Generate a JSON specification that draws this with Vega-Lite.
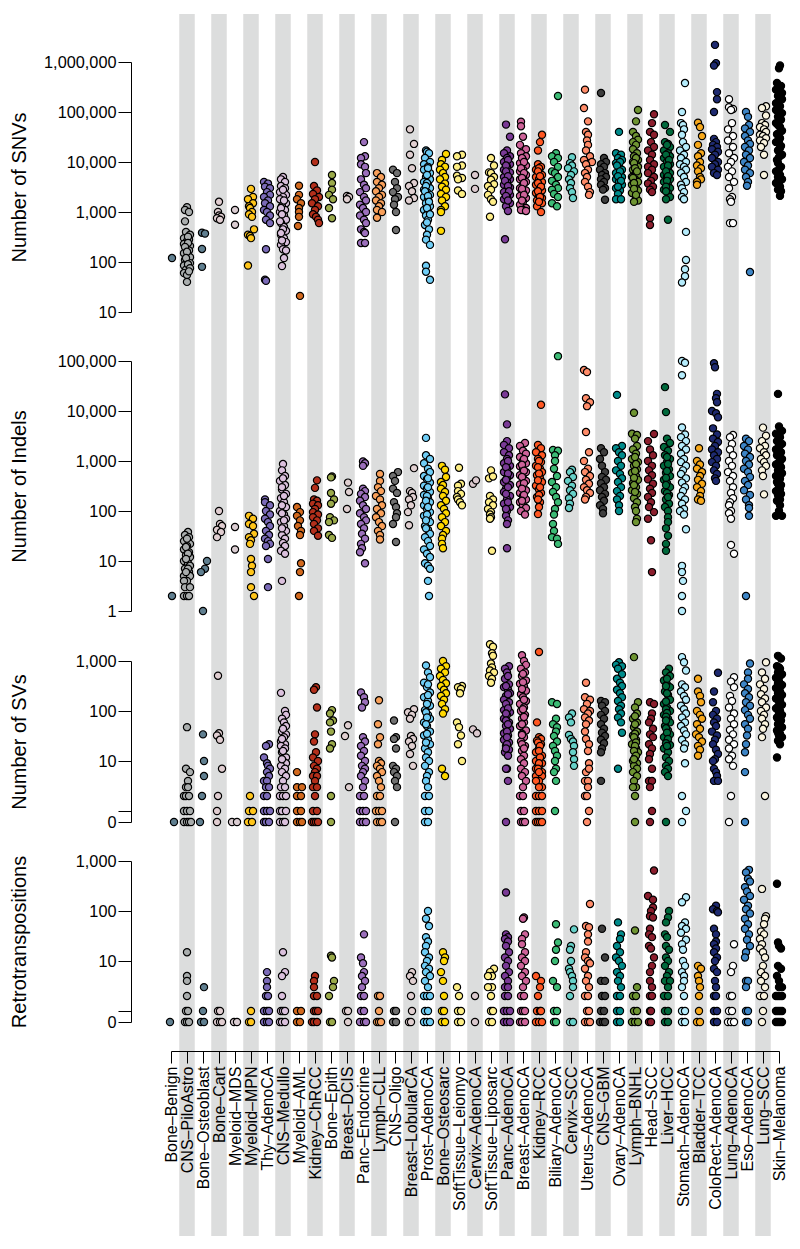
{"$schema":"https://vega.github.io/schema/vega-lite/v6.json","padding":{"left":8,"top":14,"right":0,"bottom":0},"spacing":0,"background":"white",
"config":{"view":{"stroke":null},"font":"Liberation Sans","axis":{"grid":false,"domainColor":"#000","tickColor":"#000","labelColor":"#000","titleColor":"#000","domainWidth":1,"tickWidth":1},"range":{"category":["#607F90","#A9ADAD","#607F90","#E0CDD0","#DBCDD2","#FFC51A","#7B6BB8","#DAC0DC","#D2691E","#B32F1B","#9BAA4A","#DFCFD0","#9B6FBB","#F9A05A","#707070","#E0CFD0","#6FCDF6","#FFD700","#FDEE84","#DBC9CE","#FFEE88","#7A3A96","#CD6399","#FF5722","#3CBB75","#66D0C8","#FF8C69","#3D3D3D","#008B8B","#6E9432","#8B1E2D","#00693C","#B5ECFC","#F7A81B","#1E2A70","#FFFFFF","#3D85C6","#FBF5E0","#000000"]}},
"datasets":{"stripes":[{"c":2},{"c":4},{"c":6},{"c":8},{"c":10},{"c":12},{"c":14},{"c":16},{"c":18},{"c":20},{"c":22},{"c":24},{"c":26},{"c":28},{"c":30},{"c":32},{"c":34},{"c":36},{"c":38}],
"snv":[{"c":1,"v":120,"j":1},{"c":2,"v":1250,"j":0},{"c":2,"v":1100,"j":-2},{"c":2,"v":1000,"j":2},{"c":2,"v":650,"j":-2},{"c":2,"v":400,"j":-1},{"c":2,"v":350,"j":3},{"c":2,"v":300,"j":-3},{"c":2,"v":280,"j":2},{"c":2,"v":260,"j":0},{"c":2,"v":230,"j":-3},{"c":2,"v":210,"j":3},{"c":2,"v":190,"j":-1},{"c":2,"v":170,"j":2},{"c":2,"v":150,"j":-3},{"c":2,"v":140,"j":1},{"c":2,"v":125,"j":3},{"c":2,"v":110,"j":-2},{"c":2,"v":100,"j":0},{"c":2,"v":95,"j":3},{"c":2,"v":85,"j":-3},{"c":2,"v":80,"j":1},{"c":2,"v":70,"j":-1},{"c":2,"v":60,"j":-3},{"c":2,"v":55,"j":0},{"c":2,"v":40,"j":0},{"c":2,"v":320,"j":1},{"c":2,"v":240,"j":1},{"c":2,"v":200,"j":-2},{"c":2,"v":160,"j":0},{"c":2,"v":120,"j":-1},{"c":2,"v":90,"j":1},{"c":2,"v":75,"j":3},{"c":2,"v":65,"j":2},{"c":3,"v":385,"j":-1},{"c":3,"v":370,"j":2},{"c":3,"v":182,"j":-1},{"c":3,"v":80,"j":-1},{"c":4,"v":1600,"j":0},{"c":4,"v":1000,"j":-1},{"c":4,"v":850,"j":0},{"c":4,"v":800,"j":2},{"c":4,"v":750,"j":-2},{"c":4,"v":700,"j":1},{"c":5,"v":1100,"j":0},{"c":5,"v":556,"j":0},{"c":6,"v":2900,"j":0},{"c":6,"v":2000,"j":2},{"c":6,"v":1800,"j":-3},{"c":6,"v":1500,"j":2},{"c":6,"v":1300,"j":-2},{"c":6,"v":1200,"j":-1},{"c":6,"v":1000,"j":1},{"c":6,"v":900,"j":-2},{"c":6,"v":800,"j":1},{"c":6,"v":450,"j":3},{"c":6,"v":350,"j":-3},{"c":6,"v":330,"j":-1},{"c":6,"v":300,"j":0},{"c":6,"v":85,"j":-3},{"c":7,"v":4000,"j":-3},{"c":7,"v":3700,"j":1},{"c":7,"v":3200,"j":-2},{"c":7,"v":3000,"j":3},{"c":7,"v":2500,"j":0},{"c":7,"v":2200,"j":3},{"c":7,"v":2000,"j":-3},{"c":7,"v":1700,"j":1},{"c":7,"v":1500,"j":-2},{"c":7,"v":1300,"j":3},{"c":7,"v":1100,"j":-3},{"c":7,"v":1000,"j":0},{"c":7,"v":850,"j":3},{"c":7,"v":700,"j":-1},{"c":7,"v":600,"j":3},{"c":7,"v":180,"j":-1},{"c":7,"v":44,"j":-2},{"c":7,"v":42,"j":-1},{"c":8,"v":5000,"j":0},{"c":8,"v":4500,"j":-2},{"c":8,"v":4000,"j":2},{"c":8,"v":3300,"j":-2},{"c":8,"v":3000,"j":2},{"c":8,"v":2500,"j":-3},{"c":8,"v":2200,"j":3},{"c":8,"v":2000,"j":0},{"c":8,"v":1800,"j":-3},{"c":8,"v":1500,"j":3},{"c":8,"v":1300,"j":-1},{"c":8,"v":1100,"j":2},{"c":8,"v":1000,"j":-3},{"c":8,"v":850,"j":1},{"c":8,"v":700,"j":3},{"c":8,"v":600,"j":-2},{"c":8,"v":500,"j":1},{"c":8,"v":420,"j":3},{"c":8,"v":350,"j":-2},{"c":8,"v":300,"j":1},{"c":8,"v":250,"j":3},{"c":8,"v":220,"j":-2},{"c":8,"v":180,"j":0},{"c":8,"v":170,"j":3},{"c":8,"v":120,"j":1},{"c":8,"v":83,"j":-1},{"c":8,"v":2800,"j":0},{"c":8,"v":1700,"j":1},{"c":8,"v":1200,"j":-2},{"c":8,"v":900,"j":-1},{"c":8,"v":650,"j":-3},{"c":8,"v":450,"j":0},{"c":8,"v":380,"j":-2},{"c":8,"v":270,"j":-1},{"c":9,"v":3350,"j":0},{"c":9,"v":2200,"j":0},{"c":9,"v":1800,"j":-2},{"c":9,"v":1500,"j":2},{"c":9,"v":1200,"j":0},{"c":9,"v":1000,"j":0},{"c":9,"v":800,"j":0},{"c":9,"v":525,"j":-1},{"c":9,"v":21,"j":1},{"c":10,"v":10000,"j":0},{"c":10,"v":3300,"j":-1},{"c":10,"v":2700,"j":2},{"c":10,"v":2300,"j":-2},{"c":10,"v":2000,"j":4},{"c":10,"v":1800,"j":0},{"c":10,"v":1500,"j":-3},{"c":10,"v":1300,"j":3},{"c":10,"v":1100,"j":0},{"c":10,"v":900,"j":-2},{"c":10,"v":800,"j":1},{"c":10,"v":700,"j":3},{"c":10,"v":600,"j":4},{"c":11,"v":5500,"j":1},{"c":11,"v":3800,"j":1},{"c":11,"v":2800,"j":1},{"c":11,"v":2200,"j":-2},{"c":11,"v":1800,"j":2},{"c":11,"v":1200,"j":-2},{"c":11,"v":750,"j":1},{"c":12,"v":2100,"j":0},{"c":12,"v":2000,"j":2},{"c":12,"v":1800,"j":0},{"c":13,"v":25000,"j":1},{"c":13,"v":13000,"j":2},{"c":13,"v":12000,"j":-2},{"c":13,"v":9000,"j":-2},{"c":13,"v":8000,"j":2},{"c":13,"v":6000,"j":3},{"c":13,"v":4500,"j":-2},{"c":13,"v":3500,"j":1},{"c":13,"v":3000,"j":3},{"c":13,"v":2500,"j":-3},{"c":13,"v":2000,"j":1},{"c":13,"v":1700,"j":3},{"c":13,"v":1400,"j":-3},{"c":13,"v":1200,"j":0},{"c":13,"v":1000,"j":3},{"c":13,"v":850,"j":-3},{"c":13,"v":700,"j":1},{"c":13,"v":600,"j":3},{"c":13,"v":450,"j":-2},{"c":13,"v":400,"j":1},{"c":13,"v":380,"j":2},{"c":13,"v":240,"j":-2},{"c":13,"v":240,"j":2},{"c":14,"v":6000,"j":-2},{"c":14,"v":5000,"j":2},{"c":14,"v":4000,"j":-2},{"c":14,"v":3500,"j":3},{"c":14,"v":3000,"j":0},{"c":14,"v":2600,"j":-3},{"c":14,"v":2200,"j":3},{"c":14,"v":2000,"j":0},{"c":14,"v":1700,"j":-3},{"c":14,"v":1500,"j":2},{"c":14,"v":1300,"j":0},{"c":14,"v":1100,"j":-2},{"c":14,"v":1000,"j":3},{"c":14,"v":770,"j":-2},{"c":15,"v":7000,"j":-2},{"c":15,"v":6000,"j":2},{"c":15,"v":4000,"j":0},{"c":15,"v":3000,"j":2},{"c":15,"v":2500,"j":-2},{"c":15,"v":2000,"j":3},{"c":15,"v":1800,"j":0},{"c":15,"v":1400,"j":-1},{"c":15,"v":1000,"j":1},{"c":15,"v":436,"j":1},{"c":16,"v":45000,"j":-1},{"c":16,"v":23000,"j":3},{"c":16,"v":14000,"j":-1},{"c":16,"v":7500,"j":1},{"c":16,"v":3800,"j":3},{"c":16,"v":3300,"j":-2},{"c":16,"v":2600,"j":1},{"c":16,"v":1900,"j":3},{"c":16,"v":1700,"j":-2},{"c":17,"v":17000,"j":-1},{"c":17,"v":16000,"j":0},{"c":17,"v":15000,"j":2},{"c":17,"v":12000,"j":-2},{"c":17,"v":10000,"j":3},{"c":17,"v":9000,"j":-3},{"c":17,"v":8000,"j":1},{"c":17,"v":7000,"j":-3},{"c":17,"v":6000,"j":3},{"c":17,"v":5000,"j":-1},{"c":17,"v":4500,"j":3},{"c":17,"v":4000,"j":-3},{"c":17,"v":3500,"j":1},{"c":17,"v":3000,"j":3},{"c":17,"v":2800,"j":-3},{"c":17,"v":2500,"j":0},{"c":17,"v":2200,"j":3},{"c":17,"v":2000,"j":-3},{"c":17,"v":1800,"j":1},{"c":17,"v":1500,"j":-1},{"c":17,"v":1300,"j":3},{"c":17,"v":1100,"j":-3},{"c":17,"v":1000,"j":1},{"c":17,"v":850,"j":-1},{"c":17,"v":700,"j":1},{"c":17,"v":550,"j":-2},{"c":17,"v":450,"j":2},{"c":17,"v":350,"j":0},{"c":17,"v":280,"j":-1},{"c":17,"v":220,"j":3},{"c":17,"v":84,"j":-1},{"c":17,"v":64,"j":-1},{"c":17,"v":44,"j":3},{"c":17,"v":7500,"j":1},{"c":17,"v":5500,"j":0},{"c":17,"v":3800,"j":0},{"c":17,"v":3300,"j":-1},{"c":17,"v":2600,"j":-2},{"c":17,"v":2100,"j":1},{"c":17,"v":1600,"j":2},{"c":17,"v":1200,"j":0},{"c":17,"v":900,"j":3},{"c":17,"v":620,"j":0},{"c":18,"v":14500,"j":3},{"c":18,"v":11000,"j":-1},{"c":18,"v":9000,"j":-2},{"c":18,"v":8000,"j":2},{"c":18,"v":7000,"j":-3},{"c":18,"v":6000,"j":0},{"c":18,"v":5000,"j":2},{"c":18,"v":4500,"j":-3},{"c":18,"v":3700,"j":2},{"c":18,"v":3200,"j":-1},{"c":18,"v":2800,"j":3},{"c":18,"v":2300,"j":-2},{"c":18,"v":2000,"j":3},{"c":18,"v":1700,"j":-1},{"c":18,"v":1300,"j":2},{"c":18,"v":1100,"j":-2},{"c":18,"v":1000,"j":-2},{"c":18,"v":420,"j":-2},{"c":19,"v":14000,"j":3},{"c":19,"v":13000,"j":-2},{"c":19,"v":8500,"j":3},{"c":19,"v":8000,"j":-2},{"c":19,"v":5300,"j":-2},{"c":19,"v":4800,"j":3},{"c":19,"v":4500,"j":-1},{"c":19,"v":2700,"j":-1},{"c":19,"v":2300,"j":3},{"c":20,"v":5500,"j":0},{"c":20,"v":2900,"j":0},{"c":21,"v":12000,"j":0},{"c":21,"v":8500,"j":3},{"c":21,"v":6200,"j":-2},{"c":21,"v":6000,"j":0},{"c":21,"v":5000,"j":3},{"c":21,"v":4400,"j":0},{"c":21,"v":3600,"j":3},{"c":21,"v":3300,"j":-3},{"c":21,"v":2800,"j":0},{"c":21,"v":2200,"j":-3},{"c":21,"v":1800,"j":0},{"c":21,"v":1600,"j":2},{"c":21,"v":805,"j":-1},{"c":22,"v":56000,"j":-1},{"c":22,"v":32000,"j":3},{"c":22,"v":17000,"j":0},{"c":22,"v":15000,"j":-3},{"c":22,"v":13000,"j":3},{"c":22,"v":12000,"j":0},{"c":22,"v":10000,"j":-3},{"c":22,"v":9000,"j":3},{"c":22,"v":8000,"j":0},{"c":22,"v":7000,"j":-3},{"c":22,"v":6200,"j":3},{"c":22,"v":5500,"j":0},{"c":22,"v":5000,"j":-3},{"c":22,"v":4500,"j":3},{"c":22,"v":4000,"j":0},{"c":22,"v":3500,"j":-3},{"c":22,"v":3100,"j":3},{"c":22,"v":2800,"j":0},{"c":22,"v":2500,"j":-3},{"c":22,"v":2200,"j":3},{"c":22,"v":2000,"j":0},{"c":22,"v":1800,"j":-3},{"c":22,"v":1500,"j":3},{"c":22,"v":1300,"j":-1},{"c":22,"v":1050,"j":1},{"c":22,"v":285,"j":-2},{"c":22,"v":11000,"j":1},{"c":22,"v":8500,"j":-1},{"c":22,"v":6500,"j":-1},{"c":22,"v":5200,"j":1},{"c":22,"v":4200,"j":-2},{"c":22,"v":3300,"j":1},{"c":22,"v":2600,"j":2},{"c":22,"v":2100,"j":-1},{"c":22,"v":1700,"j":1},{"c":23,"v":64000,"j":-2},{"c":23,"v":52000,"j":-2},{"c":23,"v":32000,"j":0},{"c":23,"v":22000,"j":-3},{"c":23,"v":18000,"j":3},{"c":23,"v":15000,"j":-2},{"c":23,"v":13000,"j":3},{"c":23,"v":11000,"j":0},{"c":23,"v":9500,"j":-3},{"c":23,"v":8500,"j":3},{"c":23,"v":7000,"j":0},{"c":23,"v":6500,"j":-3},{"c":23,"v":5500,"j":3},{"c":23,"v":5000,"j":0},{"c":23,"v":4500,"j":-3},{"c":23,"v":4000,"j":3},{"c":23,"v":3500,"j":0},{"c":23,"v":3000,"j":-3},{"c":23,"v":2700,"j":3},{"c":23,"v":2400,"j":0},{"c":23,"v":2100,"j":-3},{"c":23,"v":1900,"j":3},{"c":23,"v":1600,"j":0},{"c":23,"v":1400,"j":-3},{"c":23,"v":1200,"j":3},{"c":23,"v":1100,"j":0},{"c":23,"v":1100,"j":-2},{"c":23,"v":1050,"j":3},{"c":23,"v":12000,"j":-1},{"c":23,"v":10000,"j":1},{"c":23,"v":7500,"j":-2},{"c":23,"v":6000,"j":1},{"c":23,"v":4800,"j":-1},{"c":23,"v":3800,"j":1},{"c":23,"v":2900,"j":-1},{"c":23,"v":2200,"j":1},{"c":23,"v":1700,"j":-1},{"c":24,"v":35000,"j":3},{"c":24,"v":25000,"j":1},{"c":24,"v":17000,"j":-1},{"c":24,"v":9000,"j":-1},{"c":24,"v":8000,"j":2},{"c":24,"v":7000,"j":-3},{"c":24,"v":6000,"j":1},{"c":24,"v":5500,"j":3},{"c":24,"v":5000,"j":-3},{"c":24,"v":4500,"j":0},{"c":24,"v":4000,"j":3},{"c":24,"v":3500,"j":-3},{"c":24,"v":3000,"j":1},{"c":24,"v":2700,"j":3},{"c":24,"v":2400,"j":-3},{"c":24,"v":2100,"j":0},{"c":24,"v":1900,"j":3},{"c":24,"v":1700,"j":-2},{"c":24,"v":1500,"j":3},{"c":24,"v":1300,"j":-2},{"c":24,"v":1000,"j":2},{"c":24,"v":7500,"j":0},{"c":24,"v":6500,"j":-1},{"c":24,"v":5200,"j":1},{"c":24,"v":3800,"j":-1},{"c":24,"v":3200,"j":2},{"c":24,"v":2600,"j":-1},{"c":24,"v":2000,"j":1},{"c":24,"v":1600,"j":0},{"c":25,"v":209000,"j":3},{"c":25,"v":15000,"j":1},{"c":25,"v":13000,"j":-3},{"c":25,"v":12000,"j":3},{"c":25,"v":10000,"j":-1},{"c":25,"v":8000,"j":3},{"c":25,"v":6500,"j":-3},{"c":25,"v":6000,"j":0},{"c":25,"v":5000,"j":3},{"c":25,"v":4200,"j":-3},{"c":25,"v":3500,"j":1},{"c":25,"v":3000,"j":3},{"c":25,"v":2800,"j":-3},{"c":25,"v":2300,"j":-1},{"c":25,"v":2000,"j":3},{"c":25,"v":1500,"j":-3},{"c":25,"v":1300,"j":2},{"c":26,"v":12500,"j":1},{"c":26,"v":9500,"j":-1},{"c":26,"v":8500,"j":1},{"c":26,"v":7500,"j":-3},{"c":26,"v":6500,"j":3},{"c":26,"v":5500,"j":0},{"c":26,"v":4500,"j":-2},{"c":26,"v":3800,"j":0},{"c":26,"v":3000,"j":-1},{"c":26,"v":2500,"j":1},{"c":26,"v":1900,"j":2},{"c":27,"v":280000,"j":-2},{"c":27,"v":120000,"j":-3},{"c":27,"v":65000,"j":1},{"c":27,"v":40000,"j":-1},{"c":27,"v":35000,"j":1},{"c":27,"v":27000,"j":0},{"c":27,"v":22000,"j":1},{"c":27,"v":17000,"j":-1},{"c":27,"v":13000,"j":3},{"c":27,"v":11000,"j":-3},{"c":27,"v":10000,"j":5},{"c":27,"v":9000,"j":-1},{"c":27,"v":7000,"j":1},{"c":27,"v":6000,"j":-2},{"c":27,"v":5000,"j":0},{"c":27,"v":4000,"j":-2},{"c":27,"v":3200,"j":1},{"c":27,"v":2500,"j":3},{"c":27,"v":2200,"j":2},{"c":28,"v":240000,"j":-2},{"c":28,"v":12000,"j":1},{"c":28,"v":10000,"j":3},{"c":28,"v":9000,"j":-2},{"c":28,"v":8000,"j":1},{"c":28,"v":7000,"j":-3},{"c":28,"v":6000,"j":2},{"c":28,"v":5500,"j":-1},{"c":28,"v":5000,"j":3},{"c":28,"v":4500,"j":-2},{"c":28,"v":4000,"j":1},{"c":28,"v":3500,"j":-2},{"c":28,"v":3000,"j":2},{"c":28,"v":2800,"j":0},{"c":28,"v":1760,"j":2},{"c":29,"v":40000,"j":0},{"c":29,"v":15000,"j":-3},{"c":29,"v":14000,"j":2},{"c":29,"v":12000,"j":-1},{"c":29,"v":11000,"j":3},{"c":29,"v":9500,"j":-3},{"c":29,"v":8000,"j":0},{"c":29,"v":7000,"j":3},{"c":29,"v":6000,"j":-3},{"c":29,"v":5500,"j":1},{"c":29,"v":5000,"j":3},{"c":29,"v":4500,"j":-3},{"c":29,"v":4000,"j":0},{"c":29,"v":3500,"j":3},{"c":29,"v":3000,"j":-3},{"c":29,"v":2700,"j":1},{"c":29,"v":2300,"j":-1},{"c":29,"v":1800,"j":-3},{"c":29,"v":1800,"j":2},{"c":29,"v":10000,"j":1},{"c":29,"v":8500,"j":-2},{"c":29,"v":6500,"j":1},{"c":29,"v":5200,"j":-1},{"c":29,"v":4200,"j":2},{"c":29,"v":3200,"j":-1},{"c":30,"v":110000,"j":3},{"c":30,"v":65000,"j":1},{"c":30,"v":40000,"j":-2},{"c":30,"v":33000,"j":1},{"c":30,"v":28000,"j":3},{"c":30,"v":25000,"j":-2},{"c":30,"v":22000,"j":1},{"c":30,"v":18000,"j":-2},{"c":30,"v":15000,"j":2},{"c":30,"v":13000,"j":-1},{"c":30,"v":11000,"j":3},{"c":30,"v":10000,"j":-2},{"c":30,"v":9000,"j":1},{"c":30,"v":8000,"j":3},{"c":30,"v":7000,"j":-2},{"c":30,"v":6000,"j":1},{"c":30,"v":5500,"j":3},{"c":30,"v":5000,"j":-3},{"c":30,"v":4500,"j":0},{"c":30,"v":4000,"j":3},{"c":30,"v":3500,"j":-3},{"c":30,"v":3000,"j":1},{"c":30,"v":2700,"j":3},{"c":30,"v":2400,"j":-3},{"c":30,"v":2000,"j":1},{"c":30,"v":1700,"j":3},{"c":30,"v":1600,"j":-1},{"c":30,"v":12000,"j":1},{"c":30,"v":9500,"j":-1},{"c":30,"v":7500,"j":0},{"c":30,"v":6500,"j":2},{"c":30,"v":4800,"j":-2},{"c":30,"v":3800,"j":-1},{"c":30,"v":2900,"j":-1},{"c":30,"v":2200,"j":1},{"c":31,"v":90000,"j":3},{"c":31,"v":60000,"j":1},{"c":31,"v":40000,"j":-1},{"c":31,"v":35000,"j":3},{"c":31,"v":25000,"j":0},{"c":31,"v":20000,"j":3},{"c":31,"v":17000,"j":-3},{"c":31,"v":14000,"j":1},{"c":31,"v":11000,"j":-1},{"c":31,"v":9000,"j":3},{"c":31,"v":8000,"j":-3},{"c":31,"v":7000,"j":1},{"c":31,"v":6000,"j":-3},{"c":31,"v":5000,"j":3},{"c":31,"v":4200,"j":0},{"c":31,"v":3700,"j":-3},{"c":31,"v":3200,"j":2},{"c":31,"v":2800,"j":-1},{"c":31,"v":2500,"j":1},{"c":31,"v":750,"j":-1},{"c":31,"v":550,"j":-1},{"c":32,"v":55000,"j":-2},{"c":32,"v":40000,"j":3},{"c":32,"v":25000,"j":-2},{"c":32,"v":23000,"j":1},{"c":32,"v":20000,"j":3},{"c":32,"v":17000,"j":-3},{"c":32,"v":15000,"j":1},{"c":32,"v":13000,"j":3},{"c":32,"v":12000,"j":-3},{"c":32,"v":10000,"j":0},{"c":32,"v":9000,"j":3},{"c":32,"v":8000,"j":-3},{"c":32,"v":7000,"j":1},{"c":32,"v":6000,"j":3},{"c":32,"v":5500,"j":-3},{"c":32,"v":5000,"j":0},{"c":32,"v":4500,"j":3},{"c":32,"v":4000,"j":-3},{"c":32,"v":3500,"j":1},{"c":32,"v":3000,"j":3},{"c":32,"v":2800,"j":-3},{"c":32,"v":2400,"j":1},{"c":32,"v":2000,"j":3},{"c":32,"v":1800,"j":-1},{"c":32,"v":700,"j":1},{"c":32,"v":22000,"j":0},{"c":32,"v":14000,"j":-1},{"c":32,"v":11000,"j":2},{"c":32,"v":8500,"j":1},{"c":32,"v":6500,"j":-1},{"c":32,"v":5200,"j":1},{"c":32,"v":4200,"j":0},{"c":32,"v":3200,"j":-1},{"c":32,"v":2600,"j":-1},{"c":33,"v":380000,"j":2},{"c":33,"v":100000,"j":-1},{"c":33,"v":60000,"j":-2},{"c":33,"v":55000,"j":0},{"c":33,"v":45000,"j":1},{"c":33,"v":35000,"j":-1},{"c":33,"v":25000,"j":0},{"c":33,"v":20000,"j":3},{"c":33,"v":17000,"j":-3},{"c":33,"v":14000,"j":1},{"c":33,"v":12000,"j":-2},{"c":33,"v":10000,"j":3},{"c":33,"v":9000,"j":-3},{"c":33,"v":8000,"j":1},{"c":33,"v":7000,"j":3},{"c":33,"v":6000,"j":-2},{"c":33,"v":5000,"j":1},{"c":33,"v":4000,"j":3},{"c":33,"v":3500,"j":-2},{"c":33,"v":3000,"j":-1},{"c":33,"v":2500,"j":1},{"c":33,"v":2000,"j":-1},{"c":33,"v":1800,"j":1},{"c":33,"v":400,"j":3},{"c":33,"v":110,"j":3},{"c":33,"v":72,"j":2},{"c":33,"v":52,"j":2},{"c":33,"v":39,"j":-1},{"c":34,"v":61000,"j":-1},{"c":34,"v":50000,"j":1},{"c":34,"v":33000,"j":3},{"c":34,"v":22000,"j":-1},{"c":34,"v":15000,"j":2},{"c":34,"v":13000,"j":-1},{"c":34,"v":10000,"j":1},{"c":34,"v":8500,"j":-2},{"c":34,"v":7500,"j":2},{"c":34,"v":6500,"j":-1},{"c":34,"v":5000,"j":1},{"c":34,"v":4500,"j":2},{"c":34,"v":4000,"j":-2},{"c":34,"v":3500,"j":-2},{"c":35,"v":2200000,"j":0},{"c":35,"v":950000,"j":1},{"c":35,"v":850000,"j":-1},{"c":35,"v":250000,"j":2},{"c":35,"v":180000,"j":2},{"c":35,"v":100000,"j":-1},{"c":35,"v":29000,"j":-1},{"c":35,"v":25000,"j":1},{"c":35,"v":22000,"j":-2},{"c":35,"v":20000,"j":2},{"c":35,"v":18000,"j":-3},{"c":35,"v":16000,"j":3},{"c":35,"v":14000,"j":0},{"c":35,"v":12000,"j":-3},{"c":35,"v":10000,"j":3},{"c":35,"v":9000,"j":0},{"c":35,"v":8000,"j":-3},{"c":35,"v":7000,"j":3},{"c":35,"v":6000,"j":-1},{"c":35,"v":5500,"j":2},{"c":36,"v":180000,"j":-2},{"c":36,"v":125000,"j":-2},{"c":36,"v":115000,"j":2},{"c":36,"v":110000,"j":0},{"c":36,"v":60000,"j":1},{"c":36,"v":45000,"j":-3},{"c":36,"v":33000,"j":2},{"c":36,"v":27000,"j":-3},{"c":36,"v":20000,"j":2},{"c":36,"v":15000,"j":-2},{"c":36,"v":12000,"j":3},{"c":36,"v":10000,"j":0},{"c":36,"v":8000,"j":-3},{"c":36,"v":6500,"j":1},{"c":36,"v":5000,"j":-2},{"c":36,"v":4000,"j":3},{"c":36,"v":3000,"j":-2},{"c":36,"v":2000,"j":1},{"c":36,"v":1800,"j":-1},{"c":36,"v":1600,"j":0},{"c":36,"v":600,"j":-1},{"c":36,"v":600,"j":2},{"c":37,"v":100000,"j":-1},{"c":37,"v":80000,"j":1},{"c":37,"v":55000,"j":2},{"c":37,"v":47000,"j":-2},{"c":37,"v":40000,"j":3},{"c":37,"v":33000,"j":-2},{"c":37,"v":27000,"j":1},{"c":37,"v":23000,"j":3},{"c":37,"v":20000,"j":-2},{"c":37,"v":17000,"j":2},{"c":37,"v":14000,"j":-1},{"c":37,"v":12000,"j":3},{"c":37,"v":10000,"j":-3},{"c":37,"v":8500,"j":1},{"c":37,"v":7000,"j":-2},{"c":37,"v":6000,"j":3},{"c":37,"v":5000,"j":-1},{"c":37,"v":4000,"j":1},{"c":37,"v":3350,"j":0},{"c":37,"v":63,"j":3},{"c":38,"v":130000,"j":3},{"c":38,"v":120000,"j":-1},{"c":38,"v":85000,"j":3},{"c":38,"v":60000,"j":-1},{"c":38,"v":55000,"j":2},{"c":38,"v":50000,"j":-3},{"c":38,"v":45000,"j":1},{"c":38,"v":40000,"j":3},{"c":38,"v":35000,"j":-3},{"c":38,"v":33000,"j":0},{"c":38,"v":30000,"j":3},{"c":38,"v":27000,"j":-3},{"c":38,"v":24000,"j":1},{"c":38,"v":20000,"j":-2},{"c":38,"v":14000,"j":1},{"c":38,"v":5500,"j":1},{"c":39,"v":850000,"j":1},{"c":39,"v":750000,"j":0},{"c":39,"v":380000,"j":-2},{"c":39,"v":330000,"j":2},{"c":39,"v":280000,"j":-3},{"c":39,"v":240000,"j":3},{"c":39,"v":210000,"j":-1},{"c":39,"v":180000,"j":3},{"c":39,"v":150000,"j":-3},{"c":39,"v":130000,"j":1},{"c":39,"v":110000,"j":-3},{"c":39,"v":95000,"j":3},{"c":39,"v":80000,"j":-1},{"c":39,"v":70000,"j":2},{"c":39,"v":60000,"j":-3},{"c":39,"v":50000,"j":1},{"c":39,"v":42000,"j":3},{"c":39,"v":36000,"j":-2},{"c":39,"v":30000,"j":1},{"c":39,"v":25000,"j":-3},{"c":39,"v":21000,"j":2},{"c":39,"v":17000,"j":-1},{"c":39,"v":14000,"j":3},{"c":39,"v":11000,"j":-2},{"c":39,"v":9500,"j":-1},{"c":39,"v":8000,"j":2},{"c":39,"v":6500,"j":-3},{"c":39,"v":5500,"j":1},{"c":39,"v":4500,"j":3},{"c":39,"v":3800,"j":-3},{"c":39,"v":3200,"j":1},{"c":39,"v":2600,"j":2},{"c":39,"v":2100,"j":1},{"c":39,"v":300000,"j":0},{"c":39,"v":200000,"j":1},{"c":39,"v":140000,"j":-1},{"c":39,"v":100000,"j":0},{"c":39,"v":75000,"j":1},{"c":39,"v":55000,"j":-1},{"c":39,"v":38000,"j":0},{"c":39,"v":27000,"j":0},{"c":39,"v":19000,"j":1},{"c":39,"v":12500,"j":0},{"c":39,"v":7000,"j":0},{"c":39,"v":5000,"j":-1},{"c":39,"v":3500,"j":0},{"c":39,"v":2800,"j":-1}],
"indel":[{"c":1,"v":2,"j":1},{"c":2,"v":38,"j":1},{"c":2,"v":33,"j":-2},{"c":2,"v":30,"j":2},{"c":2,"v":25,"j":-3},{"c":2,"v":22,"j":3},{"c":2,"v":20,"j":0},{"c":2,"v":17,"j":-3},{"c":2,"v":15,"j":2},{"c":2,"v":13,"j":-1},{"c":2,"v":12,"j":3},{"c":2,"v":10,"j":-3},{"c":2,"v":9,"j":1},{"c":2,"v":8,"j":3},{"c":2,"v":7,"j":-2},{"c":2,"v":6,"j":2},{"c":2,"v":5,"j":-3},{"c":2,"v":5,"j":3},{"c":2,"v":4,"j":0},{"c":2,"v":4,"j":-3},{"c":2,"v":3,"j":-2},{"c":2,"v":3,"j":3},{"c":2,"v":2,"j":-3},{"c":2,"v":2,"j":0},{"c":2,"v":2,"j":2},{"c":2,"v":28,"j":0},{"c":2,"v":19,"j":-1},{"c":2,"v":14,"j":1},{"c":2,"v":11,"j":-1},{"c":2,"v":7,"j":1},{"c":2,"v":6,"j":-1},{"c":3,"v":10,"j":4},{"c":3,"v":7,"j":2},{"c":3,"v":6,"j":-2},{"c":3,"v":1,"j":0},{"c":4,"v":100,"j":0},{"c":4,"v":55,"j":1},{"c":4,"v":50,"j":3},{"c":4,"v":42,"j":-2},{"c":4,"v":38,"j":2},{"c":4,"v":30,"j":-2},{"c":5,"v":48,"j":0},{"c":5,"v":17,"j":0},{"c":6,"v":80,"j":-2},{"c":6,"v":70,"j":2},{"c":6,"v":55,"j":-2},{"c":6,"v":50,"j":2},{"c":6,"v":35,"j":3},{"c":6,"v":30,"j":-2},{"c":6,"v":26,"j":0},{"c":6,"v":22,"j":-1},{"c":6,"v":11,"j":0},{"c":6,"v":8,"j":1},{"c":6,"v":6,"j":0},{"c":6,"v":3,"j":0},{"c":6,"v":2,"j":3},{"c":7,"v":170,"j":-2},{"c":7,"v":150,"j":-2},{"c":7,"v":130,"j":3},{"c":7,"v":100,"j":-1},{"c":7,"v":85,"j":3},{"c":7,"v":70,"j":-2},{"c":7,"v":60,"j":1},{"c":7,"v":50,"j":3},{"c":7,"v":40,"j":-1},{"c":7,"v":33,"j":2},{"c":7,"v":28,"j":-2},{"c":7,"v":25,"j":1},{"c":7,"v":22,"j":3},{"c":7,"v":20,"j":-1},{"c":7,"v":11,"j":1},{"c":7,"v":3,"j":1},{"c":8,"v":870,"j":0},{"c":8,"v":650,"j":-1},{"c":8,"v":500,"j":2},{"c":8,"v":400,"j":-3},{"c":8,"v":330,"j":2},{"c":8,"v":270,"j":-1},{"c":8,"v":220,"j":3},{"c":8,"v":180,"j":-2},{"c":8,"v":150,"j":1},{"c":8,"v":120,"j":3},{"c":8,"v":100,"j":-3},{"c":8,"v":85,"j":1},{"c":8,"v":70,"j":3},{"c":8,"v":60,"j":-2},{"c":8,"v":50,"j":1},{"c":8,"v":40,"j":3},{"c":8,"v":33,"j":-1},{"c":8,"v":28,"j":2},{"c":8,"v":23,"j":0},{"c":8,"v":20,"j":2},{"c":8,"v":16,"j":-2},{"c":8,"v":14,"j":2},{"c":8,"v":4,"j":-1},{"c":8,"v":450,"j":0},{"c":8,"v":300,"j":-1},{"c":8,"v":200,"j":1},{"c":8,"v":130,"j":-1},{"c":8,"v":90,"j":-1},{"c":8,"v":65,"j":1},{"c":8,"v":45,"j":-1},{"c":9,"v":120,"j":-2},{"c":9,"v":95,"j":1},{"c":9,"v":80,"j":-2},{"c":9,"v":65,"j":1},{"c":9,"v":50,"j":-1},{"c":9,"v":40,"j":2},{"c":9,"v":33,"j":1},{"c":9,"v":9,"j":2},{"c":9,"v":6,"j":1},{"c":9,"v":2,"j":0},{"c":10,"v":410,"j":2},{"c":10,"v":290,"j":0},{"c":10,"v":170,"j":-1},{"c":10,"v":160,"j":2},{"c":10,"v":140,"j":-2},{"c":10,"v":130,"j":3},{"c":10,"v":110,"j":0},{"c":10,"v":95,"j":-2},{"c":10,"v":85,"j":3},{"c":10,"v":75,"j":-2},{"c":10,"v":65,"j":2},{"c":10,"v":55,"j":-1},{"c":10,"v":45,"j":3},{"c":10,"v":40,"j":-1},{"c":10,"v":32,"j":3},{"c":11,"v":490,"j":1},{"c":11,"v":470,"j":0},{"c":11,"v":230,"j":0},{"c":11,"v":170,"j":3},{"c":11,"v":140,"j":0},{"c":11,"v":75,"j":-1},{"c":11,"v":65,"j":3},{"c":11,"v":60,"j":-2},{"c":11,"v":33,"j":-2},{"c":11,"v":29,"j":1},{"c":12,"v":370,"j":1},{"c":12,"v":240,"j":2},{"c":12,"v":110,"j":0},{"c":13,"v":980,"j":0},{"c":13,"v":900,"j":2},{"c":13,"v":800,"j":0},{"c":13,"v":280,"j":0},{"c":13,"v":250,"j":2},{"c":13,"v":220,"j":-2},{"c":13,"v":190,"j":2},{"c":13,"v":160,"j":-3},{"c":13,"v":130,"j":0},{"c":13,"v":110,"j":3},{"c":13,"v":90,"j":-3},{"c":13,"v":75,"j":1},{"c":13,"v":65,"j":3},{"c":13,"v":55,"j":-2},{"c":13,"v":45,"j":1},{"c":13,"v":35,"j":-1},{"c":13,"v":28,"j":2},{"c":13,"v":22,"j":-2},{"c":13,"v":18,"j":-1},{"c":13,"v":15,"j":-3},{"c":13,"v":9,"j":2},{"c":14,"v":550,"j":1},{"c":14,"v":400,"j":1},{"c":14,"v":300,"j":-1},{"c":14,"v":250,"j":2},{"c":14,"v":200,"j":-3},{"c":14,"v":170,"j":1},{"c":14,"v":130,"j":3},{"c":14,"v":110,"j":-2},{"c":14,"v":90,"j":2},{"c":14,"v":75,"j":-3},{"c":14,"v":60,"j":0},{"c":14,"v":50,"j":3},{"c":14,"v":40,"j":-1},{"c":14,"v":33,"j":1},{"c":14,"v":27,"j":1},{"c":15,"v":600,"j":3},{"c":15,"v":500,"j":-2},{"c":15,"v":400,"j":0},{"c":15,"v":280,"j":-2},{"c":15,"v":230,"j":2},{"c":15,"v":150,"j":-1},{"c":15,"v":120,"j":1},{"c":15,"v":90,"j":2},{"c":15,"v":75,"j":1},{"c":15,"v":55,"j":-2},{"c":15,"v":24,"j":1},{"c":16,"v":720,"j":3},{"c":16,"v":250,"j":-1},{"c":16,"v":230,"j":1},{"c":16,"v":190,"j":2},{"c":16,"v":170,"j":-2},{"c":16,"v":130,"j":0},{"c":16,"v":95,"j":-3},{"c":16,"v":52,"j":-2},{"c":17,"v":2900,"j":-1},{"c":17,"v":1300,"j":-1},{"c":17,"v":1100,"j":3},{"c":17,"v":900,"j":-3},{"c":17,"v":700,"j":1},{"c":17,"v":600,"j":3},{"c":17,"v":500,"j":-3},{"c":17,"v":430,"j":0},{"c":17,"v":370,"j":3},{"c":17,"v":320,"j":-3},{"c":17,"v":280,"j":0},{"c":17,"v":240,"j":3},{"c":17,"v":210,"j":-3},{"c":17,"v":180,"j":1},{"c":17,"v":150,"j":3},{"c":17,"v":130,"j":-3},{"c":17,"v":110,"j":0},{"c":17,"v":95,"j":3},{"c":17,"v":80,"j":-3},{"c":17,"v":70,"j":1},{"c":17,"v":60,"j":3},{"c":17,"v":50,"j":-2},{"c":17,"v":42,"j":1},{"c":17,"v":35,"j":3},{"c":17,"v":30,"j":-2},{"c":17,"v":25,"j":1},{"c":17,"v":20,"j":3},{"c":17,"v":17,"j":-3},{"c":17,"v":14,"j":0},{"c":17,"v":12,"j":3},{"c":17,"v":9,"j":-2},{"c":17,"v":8,"j":1},{"c":17,"v":7,"j":3},{"c":17,"v":4,"j":1},{"c":17,"v":2,"j":2},{"c":17,"v":450,"j":1},{"c":17,"v":300,"j":1},{"c":17,"v":200,"j":0},{"c":17,"v":160,"j":-1},{"c":17,"v":120,"j":1},{"c":17,"v":85,"j":0},{"c":17,"v":65,"j":-1},{"c":17,"v":45,"j":-1},{"c":18,"v":800,"j":-1},{"c":18,"v":670,"j":2},{"c":18,"v":480,"j":3},{"c":18,"v":380,"j":-2},{"c":18,"v":330,"j":0},{"c":18,"v":280,"j":-2},{"c":18,"v":240,"j":2},{"c":18,"v":200,"j":0},{"c":18,"v":160,"j":3},{"c":18,"v":130,"j":-2},{"c":18,"v":110,"j":1},{"c":18,"v":90,"j":3},{"c":18,"v":75,"j":-1},{"c":18,"v":60,"j":2},{"c":18,"v":50,"j":-2},{"c":18,"v":40,"j":3},{"c":18,"v":33,"j":0},{"c":18,"v":28,"j":-1},{"c":18,"v":22,"j":-1},{"c":18,"v":18,"j":0},{"c":19,"v":735,"j":0},{"c":19,"v":350,"j":2},{"c":19,"v":320,"j":-1},{"c":19,"v":250,"j":-1},{"c":19,"v":220,"j":2},{"c":19,"v":190,"j":-2},{"c":19,"v":170,"j":-1},{"c":19,"v":150,"j":1},{"c":19,"v":130,"j":3},{"c":20,"v":350,"j":-2},{"c":20,"v":410,"j":1},{"c":21,"v":650,"j":0},{"c":21,"v":450,"j":-2},{"c":21,"v":490,"j":2},{"c":21,"v":200,"j":-1},{"c":21,"v":170,"j":2},{"c":21,"v":150,"j":-2},{"c":21,"v":130,"j":2},{"c":21,"v":110,"j":-3},{"c":21,"v":95,"j":0},{"c":21,"v":85,"j":-1},{"c":21,"v":75,"j":0},{"c":21,"v":70,"j":-1},{"c":21,"v":16,"j":1},{"c":22,"v":21500,"j":-2},{"c":22,"v":5400,"j":0},{"c":22,"v":2500,"j":0},{"c":22,"v":2100,"j":-3},{"c":22,"v":1800,"j":2},{"c":22,"v":1500,"j":-3},{"c":22,"v":1300,"j":2},{"c":22,"v":1100,"j":0},{"c":22,"v":900,"j":-3},{"c":22,"v":800,"j":3},{"c":22,"v":700,"j":0},{"c":22,"v":600,"j":-3},{"c":22,"v":520,"j":3},{"c":22,"v":450,"j":0},{"c":22,"v":380,"j":-3},{"c":22,"v":330,"j":3},{"c":22,"v":280,"j":-1},{"c":22,"v":240,"j":-3},{"c":22,"v":200,"j":3},{"c":22,"v":170,"j":0},{"c":22,"v":140,"j":-3},{"c":22,"v":120,"j":3},{"c":22,"v":100,"j":0},{"c":22,"v":80,"j":-1},{"c":22,"v":65,"j":1},{"c":22,"v":55,"j":0},{"c":22,"v":18,"j":0},{"c":22,"v":1000,"j":1},{"c":22,"v":750,"j":-1},{"c":22,"v":560,"j":1},{"c":22,"v":420,"j":-1},{"c":22,"v":300,"j":1},{"c":22,"v":220,"j":-1},{"c":22,"v":150,"j":1},{"c":22,"v":110,"j":-1},{"c":23,"v":2300,"j":2},{"c":23,"v":2000,"j":-3},{"c":23,"v":1600,"j":0},{"c":23,"v":1400,"j":3},{"c":23,"v":1200,"j":-3},{"c":23,"v":1000,"j":0},{"c":23,"v":900,"j":3},{"c":23,"v":780,"j":-3},{"c":23,"v":680,"j":0},{"c":23,"v":600,"j":3},{"c":23,"v":520,"j":-3},{"c":23,"v":450,"j":0},{"c":23,"v":400,"j":3},{"c":23,"v":340,"j":-3},{"c":23,"v":300,"j":0},{"c":23,"v":260,"j":3},{"c":23,"v":230,"j":-3},{"c":23,"v":200,"j":0},{"c":23,"v":170,"j":3},{"c":23,"v":150,"j":-3},{"c":23,"v":130,"j":0},{"c":23,"v":115,"j":3},{"c":23,"v":100,"j":-2},{"c":23,"v":85,"j":2},{"c":23,"v":1100,"j":1},{"c":23,"v":840,"j":-1},{"c":23,"v":640,"j":1},{"c":23,"v":480,"j":-1},{"c":23,"v":360,"j":1},{"c":23,"v":280,"j":-1},{"c":23,"v":210,"j":1},{"c":23,"v":160,"j":-1},{"c":24,"v":13300,"j":2},{"c":24,"v":2100,"j":-1},{"c":24,"v":1800,"j":2},{"c":24,"v":1500,"j":-3},{"c":24,"v":1300,"j":3},{"c":24,"v":1100,"j":-1},{"c":24,"v":950,"j":2},{"c":24,"v":800,"j":-3},{"c":24,"v":700,"j":1},{"c":24,"v":600,"j":3},{"c":24,"v":520,"j":-2},{"c":24,"v":450,"j":1},{"c":24,"v":380,"j":3},{"c":24,"v":320,"j":-3},{"c":24,"v":270,"j":0},{"c":24,"v":230,"j":2},{"c":24,"v":190,"j":-2},{"c":24,"v":150,"j":1},{"c":24,"v":120,"j":0},{"c":24,"v":87,"j":-1},{"c":24,"v":1000,"j":0},{"c":24,"v":750,"j":-1},{"c":24,"v":560,"j":0},{"c":24,"v":410,"j":-1},{"c":24,"v":300,"j":1},{"c":24,"v":210,"j":0},{"c":24,"v":170,"j":-1},{"c":25,"v":125000,"j":3},{"c":25,"v":1660,"j":-2},{"c":25,"v":1600,"j":3},{"c":25,"v":1300,"j":0},{"c":25,"v":1000,"j":0},{"c":25,"v":700,"j":-1},{"c":25,"v":500,"j":2},{"c":25,"v":380,"j":-3},{"c":25,"v":300,"j":1},{"c":25,"v":240,"j":-2},{"c":25,"v":190,"j":1},{"c":25,"v":150,"j":3},{"c":25,"v":110,"j":0},{"c":25,"v":85,"j":-1},{"c":25,"v":55,"j":-2},{"c":25,"v":40,"j":-1},{"c":25,"v":30,"j":-3},{"c":25,"v":28,"j":2},{"c":25,"v":22,"j":3},{"c":26,"v":670,"j":1},{"c":26,"v":600,"j":-1},{"c":26,"v":480,"j":2},{"c":26,"v":400,"j":-3},{"c":26,"v":320,"j":1},{"c":26,"v":260,"j":-1},{"c":26,"v":220,"j":2},{"c":26,"v":180,"j":-2},{"c":26,"v":140,"j":-1},{"c":26,"v":115,"j":-2},{"c":27,"v":66000,"j":-3},{"c":27,"v":60000,"j":0},{"c":27,"v":18000,"j":-1},{"c":27,"v":15000,"j":3},{"c":27,"v":12500,"j":0},{"c":27,"v":3800,"j":-1},{"c":27,"v":1500,"j":2},{"c":27,"v":1000,"j":-3},{"c":27,"v":700,"j":1},{"c":27,"v":600,"j":-2},{"c":27,"v":500,"j":3},{"c":27,"v":420,"j":-1},{"c":27,"v":350,"j":2},{"c":27,"v":300,"j":-3},{"c":27,"v":260,"j":0},{"c":27,"v":230,"j":3},{"c":27,"v":190,"j":-1},{"c":27,"v":170,"j":-2},{"c":28,"v":1800,"j":-2},{"c":28,"v":1500,"j":1},{"c":28,"v":1100,"j":-3},{"c":28,"v":800,"j":-1},{"c":28,"v":600,"j":2},{"c":28,"v":480,"j":-1},{"c":28,"v":420,"j":3},{"c":28,"v":360,"j":-2},{"c":28,"v":300,"j":1},{"c":28,"v":260,"j":-3},{"c":28,"v":220,"j":2},{"c":28,"v":190,"j":-1},{"c":28,"v":160,"j":1},{"c":28,"v":130,"j":-3},{"c":28,"v":110,"j":0},{"c":28,"v":90,"j":0},{"c":29,"v":21000,"j":-2},{"c":29,"v":2000,"j":3},{"c":29,"v":1800,"j":-3},{"c":29,"v":1500,"j":0},{"c":29,"v":1300,"j":3},{"c":29,"v":1000,"j":-1},{"c":29,"v":800,"j":2},{"c":29,"v":650,"j":-3},{"c":29,"v":550,"j":1},{"c":29,"v":450,"j":3},{"c":29,"v":380,"j":-1},{"c":29,"v":300,"j":2},{"c":29,"v":250,"j":-2},{"c":29,"v":200,"j":1},{"c":29,"v":170,"j":-2},{"c":29,"v":130,"j":0},{"c":29,"v":100,"j":0},{"c":30,"v":9200,"j":-1},{"c":30,"v":3500,"j":-3},{"c":30,"v":3300,"j":2},{"c":30,"v":2800,"j":0},{"c":30,"v":2000,"j":2},{"c":30,"v":1700,"j":-2},{"c":30,"v":1400,"j":1},{"c":30,"v":1100,"j":-3},{"c":30,"v":950,"j":3},{"c":30,"v":800,"j":-1},{"c":30,"v":680,"j":2},{"c":30,"v":580,"j":-3},{"c":30,"v":500,"j":1},{"c":30,"v":420,"j":3},{"c":30,"v":360,"j":-2},{"c":30,"v":300,"j":1},{"c":30,"v":260,"j":-3},{"c":30,"v":220,"j":2},{"c":30,"v":180,"j":-1},{"c":30,"v":150,"j":2},{"c":30,"v":120,"j":0},{"c":30,"v":100,"j":1},{"c":30,"v":70,"j":2},{"c":30,"v":60,"j":1},{"c":30,"v":1200,"j":0},{"c":30,"v":870,"j":1},{"c":30,"v":630,"j":0},{"c":30,"v":460,"j":-1},{"c":30,"v":330,"j":-1},{"c":30,"v":240,"j":0},{"c":31,"v":3470,"j":3},{"c":31,"v":2500,"j":-3},{"c":31,"v":1700,"j":-1},{"c":31,"v":1300,"j":2},{"c":31,"v":1000,"j":-3},{"c":31,"v":800,"j":1},{"c":31,"v":650,"j":-2},{"c":31,"v":520,"j":1},{"c":31,"v":430,"j":-3},{"c":31,"v":350,"j":2},{"c":31,"v":280,"j":-1},{"c":31,"v":230,"j":1},{"c":31,"v":190,"j":-3},{"c":31,"v":150,"j":0},{"c":31,"v":120,"j":-2},{"c":31,"v":95,"j":3},{"c":31,"v":70,"j":-3},{"c":31,"v":26,"j":0},{"c":31,"v":6,"j":1},{"c":32,"v":30000,"j":-2},{"c":32,"v":9500,"j":-1},{"c":32,"v":2800,"j":0},{"c":32,"v":2300,"j":3},{"c":32,"v":1900,"j":-3},{"c":32,"v":1600,"j":1},{"c":32,"v":1300,"j":-2},{"c":32,"v":1100,"j":3},{"c":32,"v":950,"j":0},{"c":32,"v":800,"j":-3},{"c":32,"v":680,"j":2},{"c":32,"v":580,"j":-1},{"c":32,"v":500,"j":3},{"c":32,"v":420,"j":-3},{"c":32,"v":360,"j":0},{"c":32,"v":300,"j":3},{"c":32,"v":250,"j":-2},{"c":32,"v":210,"j":2},{"c":32,"v":170,"j":-1},{"c":32,"v":140,"j":2},{"c":32,"v":120,"j":-2},{"c":32,"v":100,"j":1},{"c":32,"v":75,"j":1},{"c":32,"v":60,"j":1},{"c":32,"v":45,"j":-1},{"c":32,"v":32,"j":1},{"c":32,"v":22,"j":-1},{"c":32,"v":16,"j":-1},{"c":32,"v":1200,"j":0},{"c":32,"v":870,"j":1},{"c":32,"v":630,"j":0},{"c":32,"v":460,"j":-1},{"c":32,"v":330,"j":-1},{"c":32,"v":230,"j":0},{"c":32,"v":190,"j":1},{"c":33,"v":100000,"j":-1},{"c":33,"v":92000,"j":2},{"c":33,"v":52000,"j":-1},{"c":33,"v":4700,"j":-1},{"c":33,"v":3400,"j":2},{"c":33,"v":3000,"j":-2},{"c":33,"v":2500,"j":3},{"c":33,"v":2000,"j":-1},{"c":33,"v":1700,"j":3},{"c":33,"v":1400,"j":-2},{"c":33,"v":1100,"j":1},{"c":33,"v":950,"j":-2},{"c":33,"v":800,"j":3},{"c":33,"v":650,"j":0},{"c":33,"v":550,"j":-2},{"c":33,"v":450,"j":3},{"c":33,"v":370,"j":-1},{"c":33,"v":300,"j":2},{"c":33,"v":250,"j":0},{"c":33,"v":200,"j":-2},{"c":33,"v":170,"j":2},{"c":33,"v":140,"j":-1},{"c":33,"v":110,"j":1},{"c":33,"v":100,"j":-3},{"c":33,"v":85,"j":1},{"c":33,"v":43,"j":3},{"c":33,"v":8,"j":-1},{"c":33,"v":6,"j":-1},{"c":33,"v":4,"j":0},{"c":33,"v":2,"j":-1},{"c":33,"v":1,"j":-1},{"c":34,"v":1800,"j":0},{"c":34,"v":1000,"j":-2},{"c":34,"v":850,"j":1},{"c":34,"v":700,"j":-2},{"c":34,"v":600,"j":3},{"c":34,"v":500,"j":1},{"c":34,"v":420,"j":-1},{"c":34,"v":350,"j":3},{"c":34,"v":300,"j":-2},{"c":34,"v":250,"j":2},{"c":34,"v":200,"j":1},{"c":34,"v":170,"j":-1},{"c":34,"v":160,"j":2},{"c":35,"v":90000,"j":-1},{"c":35,"v":75000,"j":0},{"c":35,"v":22000,"j":2},{"c":35,"v":18000,"j":1},{"c":35,"v":15000,"j":2},{"c":35,"v":10000,"j":-3},{"c":35,"v":9000,"j":1},{"c":35,"v":7500,"j":3},{"c":35,"v":4500,"j":-2},{"c":35,"v":3400,"j":2},{"c":35,"v":2800,"j":-2},{"c":35,"v":2400,"j":3},{"c":35,"v":2000,"j":0},{"c":35,"v":1700,"j":-3},{"c":35,"v":1500,"j":3},{"c":35,"v":1300,"j":-1},{"c":35,"v":1100,"j":2},{"c":35,"v":950,"j":-3},{"c":35,"v":800,"j":1},{"c":35,"v":650,"j":-1},{"c":35,"v":550,"j":2},{"c":35,"v":450,"j":0},{"c":35,"v":400,"j":1},{"c":36,"v":3300,"j":2},{"c":36,"v":3000,"j":-1},{"c":36,"v":2200,"j":1},{"c":36,"v":1700,"j":-1},{"c":36,"v":1300,"j":2},{"c":36,"v":1000,"j":-2},{"c":36,"v":800,"j":1},{"c":36,"v":600,"j":-3},{"c":36,"v":500,"j":2},{"c":36,"v":400,"j":-1},{"c":36,"v":300,"j":2},{"c":36,"v":230,"j":0},{"c":36,"v":180,"j":2},{"c":36,"v":150,"j":-1},{"c":36,"v":130,"j":-2},{"c":36,"v":100,"j":0},{"c":36,"v":90,"j":-2},{"c":36,"v":70,"j":0},{"c":36,"v":21,"j":0},{"c":36,"v":14,"j":3},{"c":37,"v":2800,"j":-1},{"c":37,"v":2500,"j":2},{"c":37,"v":2000,"j":-3},{"c":37,"v":1700,"j":1},{"c":37,"v":1400,"j":-2},{"c":37,"v":1200,"j":3},{"c":37,"v":1000,"j":-1},{"c":37,"v":850,"j":2},{"c":37,"v":700,"j":-3},{"c":37,"v":600,"j":1},{"c":37,"v":480,"j":3},{"c":37,"v":400,"j":-2},{"c":37,"v":330,"j":1},{"c":37,"v":260,"j":-3},{"c":37,"v":210,"j":3},{"c":37,"v":170,"j":-1},{"c":37,"v":130,"j":2},{"c":37,"v":115,"j":2},{"c":37,"v":80,"j":2},{"c":37,"v":2,"j":-1},{"c":38,"v":4650,"j":0},{"c":38,"v":3200,"j":3},{"c":38,"v":2500,"j":-1},{"c":38,"v":2000,"j":2},{"c":38,"v":1800,"j":-3},{"c":38,"v":1500,"j":1},{"c":38,"v":1300,"j":3},{"c":38,"v":1100,"j":-2},{"c":38,"v":950,"j":1},{"c":38,"v":800,"j":3},{"c":38,"v":650,"j":-1},{"c":38,"v":500,"j":0},{"c":38,"v":215,"j":1},{"c":39,"v":22000,"j":-1},{"c":39,"v":4900,"j":0},{"c":39,"v":4000,"j":3},{"c":39,"v":3500,"j":-3},{"c":39,"v":3000,"j":1},{"c":39,"v":2500,"j":-2},{"c":39,"v":2200,"j":3},{"c":39,"v":1900,"j":0},{"c":39,"v":1700,"j":-3},{"c":39,"v":1500,"j":2},{"c":39,"v":1300,"j":-2},{"c":39,"v":1100,"j":3},{"c":39,"v":950,"j":0},{"c":39,"v":850,"j":-3},{"c":39,"v":750,"j":2},{"c":39,"v":650,"j":-1},{"c":39,"v":570,"j":3},{"c":39,"v":500,"j":-3},{"c":39,"v":440,"j":1},{"c":39,"v":380,"j":-2},{"c":39,"v":330,"j":2},{"c":39,"v":290,"j":0},{"c":39,"v":250,"j":-3},{"c":39,"v":220,"j":2},{"c":39,"v":190,"j":0},{"c":39,"v":160,"j":-2},{"c":39,"v":130,"j":1},{"c":39,"v":100,"j":0},{"c":39,"v":80,"j":-3},{"c":39,"v":80,"j":3},{"c":39,"v":1000,"j":1},{"c":39,"v":800,"j":1},{"c":39,"v":600,"j":0},{"c":39,"v":470,"j":-1},{"c":39,"v":350,"j":-1},{"c":39,"v":270,"j":1},{"c":39,"v":210,"j":-1},{"c":39,"v":170,"j":1}],
"sv":[{"c":1,"v":0,"j":3},{"c":2,"v":48,"j":0},{"c":2,"v":7,"j":-1},{"c":2,"v":6,"j":3},{"c":2,"v":4,"j":1},{"c":2,"v":3,"j":-1},{"c":2,"v":3,"j":1},{"c":2,"v":2,"j":-3},{"c":2,"v":2,"j":-1},{"c":2,"v":2,"j":2},{"c":2,"v":1,"j":-3},{"c":2,"v":1,"j":0},{"c":2,"v":1,"j":3},{"c":2,"v":0,"j":-3},{"c":2,"v":0,"j":0},{"c":2,"v":0,"j":2},{"c":2,"v":0,"j":4},{"c":3,"v":35,"j":0},{"c":3,"v":10,"j":1},{"c":3,"v":5,"j":1},{"c":3,"v":2,"j":-1},{"c":3,"v":0,"j":-3},{"c":4,"v":510,"j":-1},{"c":4,"v":37,"j":0},{"c":4,"v":33,"j":-2},{"c":4,"v":27,"j":1},{"c":4,"v":7,"j":3},{"c":4,"v":2,"j":-1},{"c":4,"v":1,"j":-2},{"c":4,"v":0,"j":-2},{"c":5,"v":0,"j":-3},{"c":5,"v":0,"j":2},{"c":6,"v":2,"j":-1},{"c":6,"v":1,"j":-2},{"c":6,"v":1,"j":2},{"c":6,"v":0,"j":-3},{"c":6,"v":0,"j":1},{"c":7,"v":22,"j":2},{"c":7,"v":20,"j":-1},{"c":7,"v":12,"j":-3},{"c":7,"v":9,"j":0},{"c":7,"v":8,"j":1},{"c":7,"v":7,"j":3},{"c":7,"v":6,"j":0},{"c":7,"v":5,"j":2},{"c":7,"v":4,"j":-3},{"c":7,"v":4,"j":0},{"c":7,"v":3,"j":-1},{"c":7,"v":3,"j":2},{"c":7,"v":2,"j":-3},{"c":7,"v":2,"j":0},{"c":7,"v":1,"j":-3},{"c":7,"v":1,"j":0},{"c":7,"v":1,"j":3},{"c":7,"v":0,"j":-3},{"c":7,"v":0,"j":-1},{"c":7,"v":0,"j":2},{"c":8,"v":235,"j":-2},{"c":8,"v":100,"j":2},{"c":8,"v":85,"j":3},{"c":8,"v":70,"j":-1},{"c":8,"v":60,"j":1},{"c":8,"v":50,"j":3},{"c":8,"v":40,"j":-1},{"c":8,"v":35,"j":3},{"c":8,"v":30,"j":1},{"c":8,"v":25,"j":-2},{"c":8,"v":22,"j":2},{"c":8,"v":20,"j":-2},{"c":8,"v":18,"j":2},{"c":8,"v":15,"j":-1},{"c":8,"v":12,"j":3},{"c":8,"v":10,"j":0},{"c":8,"v":9,"j":3},{"c":8,"v":8,"j":-2},{"c":8,"v":7,"j":2},{"c":8,"v":6,"j":-1},{"c":8,"v":5,"j":3},{"c":8,"v":4,"j":0},{"c":8,"v":3,"j":-2},{"c":8,"v":3,"j":2},{"c":8,"v":2,"j":-3},{"c":8,"v":2,"j":0},{"c":8,"v":2,"j":3},{"c":8,"v":1,"j":-3},{"c":8,"v":1,"j":-1},{"c":8,"v":1,"j":3},{"c":8,"v":0,"j":-3},{"c":8,"v":0,"j":0},{"c":8,"v":0,"j":2},{"c":8,"v":45,"j":0},{"c":8,"v":28,"j":-1},{"c":8,"v":16,"j":0},{"c":8,"v":11,"j":-1},{"c":9,"v":6,"j":-2},{"c":9,"v":3,"j":-2},{"c":9,"v":3,"j":3},{"c":9,"v":2,"j":-2},{"c":9,"v":2,"j":2},{"c":9,"v":1,"j":-2},{"c":9,"v":1,"j":2},{"c":9,"v":0,"j":-2},{"c":9,"v":0,"j":1},{"c":9,"v":0,"j":3},{"c":10,"v":300,"j":1},{"c":10,"v":270,"j":-1},{"c":10,"v":120,"j":2},{"c":10,"v":35,"j":0},{"c":10,"v":25,"j":-1},{"c":10,"v":15,"j":1},{"c":10,"v":12,"j":-2},{"c":10,"v":10,"j":3},{"c":10,"v":8,"j":-1},{"c":10,"v":7,"j":2},{"c":10,"v":6,"j":0},{"c":10,"v":5,"j":-2},{"c":10,"v":5,"j":2},{"c":10,"v":4,"j":0},{"c":10,"v":3,"j":-2},{"c":10,"v":3,"j":2},{"c":10,"v":2,"j":0},{"c":10,"v":1,"j":-2},{"c":10,"v":1,"j":2},{"c":10,"v":0,"j":-3},{"c":10,"v":0,"j":-1},{"c":10,"v":0,"j":1},{"c":10,"v":0,"j":3},{"c":11,"v":105,"j":1},{"c":11,"v":90,"j":-1},{"c":11,"v":65,"j":2},{"c":11,"v":60,"j":-1},{"c":11,"v":40,"j":0},{"c":11,"v":22,"j":1},{"c":11,"v":18,"j":-1},{"c":11,"v":2,"j":0},{"c":11,"v":0,"j":0},{"c":12,"v":52,"j":1},{"c":12,"v":32,"j":-2},{"c":12,"v":3,"j":2},{"c":13,"v":240,"j":-2},{"c":13,"v":190,"j":1},{"c":13,"v":150,"j":2},{"c":13,"v":120,"j":-1},{"c":13,"v":30,"j":0},{"c":13,"v":25,"j":2},{"c":13,"v":20,"j":-2},{"c":13,"v":16,"j":1},{"c":13,"v":13,"j":-2},{"c":13,"v":10,"j":2},{"c":13,"v":8,"j":-1},{"c":13,"v":7,"j":2},{"c":13,"v":6,"j":0},{"c":13,"v":5,"j":-2},{"c":13,"v":4,"j":2},{"c":13,"v":3,"j":0},{"c":13,"v":2,"j":-3},{"c":13,"v":2,"j":1},{"c":13,"v":1,"j":-3},{"c":13,"v":1,"j":0},{"c":13,"v":1,"j":3},{"c":13,"v":0,"j":-3},{"c":13,"v":0,"j":0},{"c":13,"v":0,"j":3},{"c":14,"v":165,"j":0},{"c":14,"v":55,"j":-1},{"c":14,"v":30,"j":1},{"c":14,"v":22,"j":-1},{"c":14,"v":10,"j":0},{"c":14,"v":9,"j":2},{"c":14,"v":8,"j":-2},{"c":14,"v":7,"j":1},{"c":14,"v":6,"j":3},{"c":14,"v":5,"j":-2},{"c":14,"v":4,"j":0},{"c":14,"v":3,"j":2},{"c":14,"v":2,"j":-2},{"c":14,"v":2,"j":1},{"c":14,"v":1,"j":-3},{"c":14,"v":1,"j":0},{"c":14,"v":1,"j":3},{"c":14,"v":0,"j":-2},{"c":14,"v":0,"j":1},{"c":14,"v":0,"j":3},{"c":15,"v":65,"j":-1},{"c":15,"v":30,"j":1},{"c":15,"v":28,"j":-1},{"c":15,"v":18,"j":1},{"c":15,"v":8,"j":-2},{"c":15,"v":7,"j":1},{"c":15,"v":6,"j":-1},{"c":15,"v":5,"j":2},{"c":15,"v":4,"j":0},{"c":15,"v":3,"j":2},{"c":15,"v":0,"j":0},{"c":16,"v":110,"j":3},{"c":16,"v":95,"j":-3},{"c":16,"v":85,"j":1},{"c":16,"v":70,"j":-1},{"c":16,"v":32,"j":0},{"c":16,"v":28,"j":2},{"c":16,"v":25,"j":-2},{"c":16,"v":20,"j":1},{"c":16,"v":14,"j":-1},{"c":16,"v":8,"j":2},{"c":17,"v":830,"j":-1},{"c":17,"v":600,"j":1},{"c":17,"v":480,"j":3},{"c":17,"v":380,"j":-3},{"c":17,"v":300,"j":0},{"c":17,"v":240,"j":3},{"c":17,"v":190,"j":-3},{"c":17,"v":160,"j":1},{"c":17,"v":130,"j":3},{"c":17,"v":105,"j":-2},{"c":17,"v":85,"j":1},{"c":17,"v":70,"j":3},{"c":17,"v":60,"j":-3},{"c":17,"v":50,"j":0},{"c":17,"v":40,"j":3},{"c":17,"v":33,"j":-3},{"c":17,"v":27,"j":1},{"c":17,"v":22,"j":3},{"c":17,"v":18,"j":-2},{"c":17,"v":15,"j":1},{"c":17,"v":12,"j":-1},{"c":17,"v":10,"j":2},{"c":17,"v":8,"j":-2},{"c":17,"v":6,"j":2},{"c":17,"v":5,"j":0},{"c":17,"v":4,"j":-1},{"c":17,"v":3,"j":1},{"c":17,"v":2,"j":-2},{"c":17,"v":2,"j":2},{"c":17,"v":1,"j":-2},{"c":17,"v":1,"j":2},{"c":17,"v":0,"j":-2},{"c":17,"v":0,"j":1},{"c":17,"v":350,"j":1},{"c":17,"v":210,"j":1},{"c":17,"v":140,"j":0},{"c":17,"v":95,"j":-1},{"c":17,"v":75,"j":0},{"c":17,"v":55,"j":-1},{"c":17,"v":36,"j":0},{"c":17,"v":24,"j":-1},{"c":18,"v":1000,"j":0},{"c":18,"v":800,"j":3},{"c":18,"v":700,"j":-2},{"c":18,"v":600,"j":2},{"c":18,"v":500,"j":-3},{"c":18,"v":430,"j":0},{"c":18,"v":370,"j":3},{"c":18,"v":320,"j":-2},{"c":18,"v":270,"j":1},{"c":18,"v":230,"j":3},{"c":18,"v":200,"j":-2},{"c":18,"v":170,"j":1},{"c":18,"v":140,"j":-1},{"c":18,"v":110,"j":2},{"c":18,"v":90,"j":0},{"c":18,"v":7,"j":-1},{"c":18,"v":5,"j":2},{"c":19,"v":320,"j":3},{"c":19,"v":300,"j":-1},{"c":19,"v":280,"j":2},{"c":19,"v":230,"j":1},{"c":19,"v":60,"j":-2},{"c":19,"v":48,"j":0},{"c":19,"v":33,"j":2},{"c":19,"v":22,"j":-1},{"c":19,"v":10,"j":3},{"c":20,"v":44,"j":-2},{"c":20,"v":37,"j":2},{"c":21,"v":1650,"j":-1},{"c":21,"v":1550,"j":2},{"c":21,"v":1300,"j":1},{"c":21,"v":1200,"j":2},{"c":21,"v":900,"j":0},{"c":21,"v":750,"j":1},{"c":21,"v":650,"j":-1},{"c":21,"v":600,"j":3},{"c":21,"v":500,"j":-2},{"c":21,"v":450,"j":1},{"c":21,"v":380,"j":0},{"c":22,"v":800,"j":2},{"c":22,"v":700,"j":-2},{"c":22,"v":600,"j":0},{"c":22,"v":450,"j":-2},{"c":22,"v":350,"j":2},{"c":22,"v":300,"j":-3},{"c":22,"v":270,"j":1},{"c":22,"v":230,"j":3},{"c":22,"v":200,"j":-1},{"c":22,"v":170,"j":-3},{"c":22,"v":150,"j":2},{"c":22,"v":125,"j":0},{"c":22,"v":105,"j":-3},{"c":22,"v":95,"j":3},{"c":22,"v":85,"j":0},{"c":22,"v":70,"j":-3},{"c":22,"v":60,"j":2},{"c":22,"v":50,"j":-1},{"c":22,"v":45,"j":3},{"c":22,"v":37,"j":-3},{"c":22,"v":33,"j":1},{"c":22,"v":27,"j":-3},{"c":22,"v":24,"j":2},{"c":22,"v":20,"j":-1},{"c":22,"v":17,"j":2},{"c":22,"v":15,"j":-2},{"c":22,"v":13,"j":1},{"c":22,"v":7,"j":0},{"c":22,"v":7,"j":-1},{"c":22,"v":4,"j":1},{"c":22,"v":0,"j":-1},{"c":22,"v":500,"j":1},{"c":22,"v":320,"j":-1},{"c":22,"v":220,"j":1},{"c":22,"v":140,"j":-1},{"c":22,"v":115,"j":1},{"c":22,"v":90,"j":-1},{"c":22,"v":65,"j":-1},{"c":22,"v":55,"j":1},{"c":22,"v":40,"j":0},{"c":22,"v":30,"j":0},{"c":22,"v":22,"j":0},{"c":22,"v":18,"j":-1},{"c":23,"v":1220,"j":-1},{"c":23,"v":1000,"j":1},{"c":23,"v":850,"j":3},{"c":23,"v":700,"j":-2},{"c":23,"v":600,"j":2},{"c":23,"v":500,"j":-1},{"c":23,"v":420,"j":3},{"c":23,"v":360,"j":-3},{"c":23,"v":310,"j":1},{"c":23,"v":260,"j":3},{"c":23,"v":220,"j":-2},{"c":23,"v":190,"j":0},{"c":23,"v":160,"j":3},{"c":23,"v":140,"j":-3},{"c":23,"v":120,"j":1},{"c":23,"v":100,"j":-2},{"c":23,"v":85,"j":2},{"c":23,"v":70,"j":-1},{"c":23,"v":60,"j":1},{"c":23,"v":50,"j":-3},{"c":23,"v":42,"j":3},{"c":23,"v":36,"j":-1},{"c":23,"v":30,"j":1},{"c":23,"v":25,"j":-2},{"c":23,"v":20,"j":2},{"c":23,"v":16,"j":-1},{"c":23,"v":13,"j":1},{"c":23,"v":11,"j":-2},{"c":23,"v":9,"j":1},{"c":23,"v":7,"j":-2},{"c":23,"v":6,"j":2},{"c":23,"v":5,"j":-1},{"c":23,"v":4,"j":3},{"c":23,"v":3,"j":0},{"c":23,"v":2,"j":-3},{"c":23,"v":2,"j":0},{"c":23,"v":1,"j":-2},{"c":23,"v":1,"j":1},{"c":23,"v":0,"j":-2},{"c":23,"v":0,"j":0},{"c":23,"v":0,"j":2},{"c":23,"v":560,"j":0},{"c":23,"v":390,"j":0},{"c":23,"v":280,"j":-1},{"c":23,"v":170,"j":1},{"c":23,"v":110,"j":0},{"c":23,"v":77,"j":1},{"c":23,"v":55,"j":-1},{"c":23,"v":34,"j":-1},{"c":23,"v":22,"j":-1},{"c":23,"v":18,"j":1},{"c":24,"v":1350,"j":0},{"c":24,"v":60,"j":-2},{"c":24,"v":30,"j":0},{"c":24,"v":28,"j":2},{"c":24,"v":26,"j":-2},{"c":24,"v":22,"j":2},{"c":24,"v":18,"j":0},{"c":24,"v":15,"j":-3},{"c":24,"v":13,"j":3},{"c":24,"v":11,"j":0},{"c":24,"v":10,"j":-3},{"c":24,"v":9,"j":3},{"c":24,"v":8,"j":0},{"c":24,"v":7,"j":-3},{"c":24,"v":6,"j":3},{"c":24,"v":5,"j":-3},{"c":24,"v":5,"j":3},{"c":24,"v":4,"j":0},{"c":24,"v":4,"j":-3},{"c":24,"v":3,"j":3},{"c":24,"v":3,"j":0},{"c":24,"v":2,"j":-3},{"c":24,"v":2,"j":0},{"c":24,"v":2,"j":3},{"c":24,"v":1,"j":-3},{"c":24,"v":1,"j":0},{"c":24,"v":1,"j":3},{"c":24,"v":0,"j":-3},{"c":24,"v":0,"j":-1},{"c":24,"v":0,"j":1},{"c":24,"v":0,"j":3},{"c":24,"v":24,"j":-1},{"c":24,"v":20,"j":1},{"c":24,"v":16,"j":0},{"c":24,"v":12,"j":1},{"c":24,"v":9,"j":0},{"c":24,"v":7,"j":-1},{"c":24,"v":6,"j":0},{"c":25,"v":150,"j":-3},{"c":25,"v":140,"j":2},{"c":25,"v":70,"j":1},{"c":25,"v":55,"j":-2},{"c":25,"v":48,"j":2},{"c":25,"v":40,"j":1},{"c":25,"v":32,"j":-1},{"c":25,"v":25,"j":2},{"c":25,"v":20,"j":-2},{"c":25,"v":16,"j":0},{"c":25,"v":13,"j":2},{"c":25,"v":10,"j":0},{"c":25,"v":7,"j":1},{"c":25,"v":6,"j":-1},{"c":25,"v":4,"j":1},{"c":25,"v":1,"j":0},{"c":26,"v":90,"j":1},{"c":26,"v":75,"j":-2},{"c":26,"v":60,"j":0},{"c":26,"v":34,"j":-2},{"c":26,"v":28,"j":0},{"c":26,"v":25,"j":2},{"c":26,"v":20,"j":3},{"c":26,"v":15,"j":2},{"c":26,"v":11,"j":3},{"c":26,"v":8,"j":3},{"c":27,"v":380,"j":-1},{"c":27,"v":190,"j":-2},{"c":27,"v":170,"j":3},{"c":27,"v":140,"j":0},{"c":27,"v":110,"j":-3},{"c":27,"v":100,"j":3},{"c":27,"v":90,"j":1},{"c":27,"v":75,"j":-2},{"c":27,"v":65,"j":2},{"c":27,"v":55,"j":-1},{"c":27,"v":40,"j":-2},{"c":27,"v":28,"j":-1},{"c":27,"v":22,"j":2},{"c":27,"v":16,"j":1},{"c":27,"v":9,"j":2},{"c":27,"v":6,"j":-1},{"c":27,"v":7,"j":2},{"c":27,"v":4,"j":-2},{"c":27,"v":4,"j":1},{"c":27,"v":3,"j":1},{"c":27,"v":2,"j":-2},{"c":27,"v":2,"j":0},{"c":27,"v":1,"j":2},{"c":27,"v":0,"j":0},{"c":28,"v":160,"j":-2},{"c":28,"v":150,"j":2},{"c":28,"v":130,"j":-1},{"c":28,"v":100,"j":2},{"c":28,"v":85,"j":-2},{"c":28,"v":70,"j":1},{"c":28,"v":55,"j":-2},{"c":28,"v":45,"j":1},{"c":28,"v":38,"j":-1},{"c":28,"v":32,"j":2},{"c":28,"v":27,"j":-2},{"c":28,"v":23,"j":1},{"c":28,"v":18,"j":-1},{"c":28,"v":15,"j":-2},{"c":28,"v":4,"j":-2},{"c":29,"v":950,"j":0},{"c":29,"v":850,"j":-3},{"c":29,"v":800,"j":3},{"c":29,"v":700,"j":-1},{"c":29,"v":550,"j":3},{"c":29,"v":450,"j":-2},{"c":29,"v":380,"j":1},{"c":29,"v":320,"j":3},{"c":29,"v":270,"j":-2},{"c":29,"v":230,"j":1},{"c":29,"v":190,"j":3},{"c":29,"v":160,"j":-1},{"c":29,"v":130,"j":2},{"c":29,"v":110,"j":0},{"c":29,"v":90,"j":2},{"c":29,"v":75,"j":-1},{"c":29,"v":60,"j":2},{"c":29,"v":38,"j":3},{"c":29,"v":7,"j":-1},{"c":30,"v":1150,"j":-1},{"c":30,"v":150,"j":3},{"c":30,"v":120,"j":0},{"c":30,"v":90,"j":2},{"c":30,"v":70,"j":-2},{"c":30,"v":60,"j":2},{"c":30,"v":48,"j":-1},{"c":30,"v":40,"j":2},{"c":30,"v":33,"j":-2},{"c":30,"v":27,"j":1},{"c":30,"v":22,"j":-3},{"c":30,"v":18,"j":1},{"c":30,"v":15,"j":3},{"c":30,"v":12,"j":0},{"c":30,"v":10,"j":-2},{"c":30,"v":9,"j":2},{"c":30,"v":8,"j":-1},{"c":30,"v":7,"j":2},{"c":30,"v":6,"j":-2},{"c":30,"v":5,"j":2},{"c":30,"v":4,"j":-1},{"c":30,"v":3,"j":1},{"c":30,"v":3,"j":-2},{"c":30,"v":2,"j":0},{"c":30,"v":0,"j":0},{"c":30,"v":80,"j":0},{"c":30,"v":55,"j":0},{"c":30,"v":36,"j":0},{"c":30,"v":30,"j":-1},{"c":30,"v":24,"j":1},{"c":30,"v":20,"j":0},{"c":30,"v":16,"j":-1},{"c":30,"v":13,"j":1},{"c":30,"v":11,"j":-1},{"c":31,"v":150,"j":-1},{"c":31,"v":140,"j":3},{"c":31,"v":90,"j":1},{"c":31,"v":70,"j":0},{"c":31,"v":60,"j":-2},{"c":31,"v":45,"j":2},{"c":31,"v":35,"j":-1},{"c":31,"v":30,"j":2},{"c":31,"v":22,"j":-2},{"c":31,"v":18,"j":1},{"c":31,"v":14,"j":-1},{"c":31,"v":11,"j":-2},{"c":31,"v":7,"j":1},{"c":31,"v":4,"j":-2},{"c":31,"v":4,"j":1},{"c":31,"v":3,"j":-1},{"c":31,"v":1,"j":1},{"c":31,"v":0,"j":-1},{"c":32,"v":700,"j":2},{"c":32,"v":600,"j":-1},{"c":32,"v":500,"j":3},{"c":32,"v":420,"j":-3},{"c":32,"v":350,"j":0},{"c":32,"v":300,"j":3},{"c":32,"v":250,"j":-2},{"c":32,"v":210,"j":1},{"c":32,"v":170,"j":3},{"c":32,"v":140,"j":-3},{"c":32,"v":120,"j":0},{"c":32,"v":100,"j":3},{"c":32,"v":85,"j":-3},{"c":32,"v":70,"j":1},{"c":32,"v":60,"j":3},{"c":32,"v":50,"j":-2},{"c":32,"v":42,"j":1},{"c":32,"v":35,"j":3},{"c":32,"v":30,"j":-3},{"c":32,"v":25,"j":0},{"c":32,"v":21,"j":3},{"c":32,"v":18,"j":-3},{"c":32,"v":15,"j":1},{"c":32,"v":12,"j":-1},{"c":32,"v":10,"j":2},{"c":32,"v":8,"j":-1},{"c":32,"v":7,"j":1},{"c":32,"v":6,"j":-2},{"c":32,"v":5,"j":1},{"c":32,"v":0,"j":-1},{"c":32,"v":450,"j":0},{"c":32,"v":320,"j":-1},{"c":32,"v":230,"j":0},{"c":32,"v":155,"j":-1},{"c":32,"v":110,"j":-1},{"c":32,"v":92,"j":0},{"c":32,"v":78,"j":-1},{"c":32,"v":65,"j":-1},{"c":32,"v":46,"j":-1},{"c":32,"v":38,"j":0},{"c":32,"v":28,"j":1},{"c":32,"v":23,"j":-1},{"c":32,"v":20,"j":0},{"c":33,"v":1150,"j":-1},{"c":33,"v":950,"j":1},{"c":33,"v":650,"j":3},{"c":33,"v":350,"j":-1},{"c":33,"v":300,"j":2},{"c":33,"v":250,"j":-2},{"c":33,"v":200,"j":1},{"c":33,"v":170,"j":3},{"c":33,"v":130,"j":-2},{"c":33,"v":110,"j":1},{"c":33,"v":90,"j":3},{"c":33,"v":75,"j":-1},{"c":33,"v":60,"j":2},{"c":33,"v":50,"j":-2},{"c":33,"v":42,"j":1},{"c":33,"v":35,"j":3},{"c":33,"v":27,"j":-1},{"c":33,"v":22,"j":2},{"c":33,"v":18,"j":1},{"c":33,"v":9,"j":2},{"c":33,"v":2,"j":-1},{"c":33,"v":1,"j":3},{"c":33,"v":0,"j":-1},{"c":34,"v":450,"j":-1},{"c":34,"v":250,"j":-1},{"c":34,"v":200,"j":1},{"c":34,"v":150,"j":2},{"c":34,"v":100,"j":-2},{"c":34,"v":85,"j":1},{"c":34,"v":70,"j":3},{"c":34,"v":55,"j":-2},{"c":34,"v":45,"j":1},{"c":34,"v":35,"j":-3},{"c":34,"v":30,"j":0},{"c":34,"v":25,"j":3},{"c":34,"v":20,"j":-1},{"c":34,"v":17,"j":1},{"c":34,"v":13,"j":-1},{"c":35,"v":590,"j":3},{"c":35,"v":250,"j":-1},{"c":35,"v":150,"j":-2},{"c":35,"v":100,"j":1},{"c":35,"v":85,"j":-2},{"c":35,"v":70,"j":2},{"c":35,"v":60,"j":-1},{"c":35,"v":50,"j":1},{"c":35,"v":40,"j":-3},{"c":35,"v":33,"j":2},{"c":35,"v":27,"j":0},{"c":35,"v":22,"j":-2},{"c":35,"v":17,"j":1},{"c":35,"v":14,"j":3},{"c":35,"v":11,"j":0},{"c":35,"v":10,"j":-2},{"c":35,"v":7,"j":-1},{"c":35,"v":6,"j":1},{"c":35,"v":5,"j":2},{"c":35,"v":4,"j":-1},{"c":35,"v":4,"j":3},{"c":36,"v":480,"j":3},{"c":36,"v":400,"j":0},{"c":36,"v":300,"j":3},{"c":36,"v":200,"j":-1},{"c":36,"v":160,"j":1},{"c":36,"v":120,"j":-2},{"c":36,"v":90,"j":3},{"c":36,"v":70,"j":0},{"c":36,"v":55,"j":3},{"c":36,"v":43,"j":-1},{"c":36,"v":35,"j":2},{"c":36,"v":27,"j":-2},{"c":36,"v":22,"j":3},{"c":36,"v":18,"j":-2},{"c":36,"v":13,"j":1},{"c":36,"v":11,"j":-2},{"c":36,"v":8,"j":2},{"c":36,"v":2,"j":0},{"c":36,"v":0,"j":-2},{"c":37,"v":900,"j":3},{"c":37,"v":600,"j":1},{"c":37,"v":450,"j":1},{"c":37,"v":350,"j":-3},{"c":37,"v":280,"j":1},{"c":37,"v":230,"j":-2},{"c":37,"v":190,"j":2},{"c":37,"v":150,"j":-1},{"c":37,"v":130,"j":3},{"c":37,"v":105,"j":-2},{"c":37,"v":85,"j":1},{"c":37,"v":70,"j":3},{"c":37,"v":55,"j":-2},{"c":37,"v":45,"j":1},{"c":37,"v":33,"j":0},{"c":37,"v":22,"j":-1},{"c":37,"v":15,"j":-2},{"c":37,"v":6,"j":-2},{"c":37,"v":0,"j":-2},{"c":38,"v":950,"j":3},{"c":38,"v":600,"j":-1},{"c":38,"v":450,"j":2},{"c":38,"v":350,"j":-3},{"c":38,"v":280,"j":1},{"c":38,"v":220,"j":-2},{"c":38,"v":180,"j":2},{"c":38,"v":150,"j":-1},{"c":38,"v":120,"j":3},{"c":38,"v":100,"j":-2},{"c":38,"v":85,"j":1},{"c":38,"v":70,"j":-1},{"c":38,"v":55,"j":2},{"c":38,"v":45,"j":0},{"c":38,"v":30,"j":-1},{"c":38,"v":2,"j":2},{"c":39,"v":1200,"j":-1},{"c":39,"v":1100,"j":2},{"c":39,"v":800,"j":-2},{"c":39,"v":700,"j":1},{"c":39,"v":550,"j":3},{"c":39,"v":470,"j":-3},{"c":39,"v":400,"j":0},{"c":39,"v":340,"j":3},{"c":39,"v":290,"j":-3},{"c":39,"v":250,"j":1},{"c":39,"v":210,"j":3},{"c":39,"v":180,"j":-3},{"c":39,"v":155,"j":0},{"c":39,"v":135,"j":3},{"c":39,"v":115,"j":-3},{"c":39,"v":100,"j":1},{"c":39,"v":85,"j":3},{"c":39,"v":75,"j":-2},{"c":39,"v":65,"j":2},{"c":39,"v":55,"j":-1},{"c":39,"v":48,"j":3},{"c":39,"v":42,"j":-2},{"c":39,"v":36,"j":1},{"c":39,"v":30,"j":3},{"c":39,"v":26,"j":-1},{"c":39,"v":22,"j":1},{"c":39,"v":12,"j":-2},{"c":39,"v":750,"j":0},{"c":39,"v":600,"j":-1},{"c":39,"v":500,"j":1},{"c":39,"v":370,"j":-1},{"c":39,"v":310,"j":1},{"c":39,"v":230,"j":-1},{"c":39,"v":195,"j":0},{"c":39,"v":165,"j":1},{"c":39,"v":125,"j":-1},{"c":39,"v":108,"j":-1},{"c":39,"v":92,"j":0},{"c":39,"v":80,"j":1},{"c":39,"v":70,"j":-1},{"c":39,"v":60,"j":1},{"c":39,"v":45,"j":0},{"c":39,"v":38,"j":-1},{"c":39,"v":33,"j":0},{"c":39,"v":28,"j":1}],
"retro":[{"c":1,"v":0,"j":-1},{"c":2,"v":15,"j":0},{"c":2,"v":5,"j":0},{"c":2,"v":4,"j":0},{"c":2,"v":2,"j":0},{"c":2,"v":1,"j":-1},{"c":2,"v":1,"j":1},{"c":2,"v":0,"j":-2},{"c":2,"v":0,"j":0},{"c":2,"v":0,"j":2},{"c":3,"v":3,"j":1},{"c":3,"v":1,"j":0},{"c":3,"v":0,"j":-2},{"c":3,"v":0,"j":1},{"c":4,"v":1,"j":-1},{"c":4,"v":1,"j":1},{"c":4,"v":0,"j":-2},{"c":4,"v":0,"j":1},{"c":4,"v":0,"j":3},{"c":5,"v":0,"j":-1},{"c":5,"v":0,"j":2},{"c":6,"v":1,"j":0},{"c":6,"v":0,"j":-2},{"c":6,"v":0,"j":0},{"c":7,"v":6,"j":0},{"c":7,"v":4,"j":0},{"c":7,"v":3,"j":0},{"c":7,"v":2,"j":-1},{"c":7,"v":2,"j":1},{"c":7,"v":1,"j":-3},{"c":7,"v":1,"j":0},{"c":7,"v":1,"j":2},{"c":7,"v":0,"j":-3},{"c":7,"v":0,"j":0},{"c":7,"v":0,"j":2},{"c":8,"v":15,"j":0},{"c":8,"v":6,"j":2},{"c":8,"v":5,"j":-1},{"c":8,"v":2,"j":-1},{"c":8,"v":1,"j":-2},{"c":8,"v":1,"j":0},{"c":8,"v":1,"j":2},{"c":8,"v":0,"j":-3},{"c":8,"v":0,"j":-1},{"c":8,"v":0,"j":2},{"c":9,"v":1,"j":-2},{"c":9,"v":1,"j":2},{"c":9,"v":0,"j":-2},{"c":9,"v":0,"j":1},{"c":10,"v":5,"j":0},{"c":10,"v":4,"j":-1},{"c":10,"v":3,"j":-1},{"c":10,"v":2,"j":-1},{"c":10,"v":2,"j":2},{"c":10,"v":1,"j":-1},{"c":10,"v":1,"j":1},{"c":10,"v":1,"j":3},{"c":10,"v":0,"j":-3},{"c":10,"v":0,"j":-1},{"c":10,"v":0,"j":2},{"c":11,"v":13,"j":0},{"c":11,"v":12,"j":1},{"c":11,"v":4,"j":3},{"c":11,"v":3,"j":2},{"c":11,"v":2,"j":-2},{"c":11,"v":0,"j":-1},{"c":11,"v":0,"j":1},{"c":12,"v":1,"j":-1},{"c":12,"v":1,"j":1},{"c":12,"v":0,"j":1},{"c":13,"v":35,"j":1},{"c":13,"v":12,"j":-2},{"c":13,"v":9,"j":0},{"c":13,"v":6,"j":1},{"c":13,"v":5,"j":-1},{"c":13,"v":4,"j":2},{"c":13,"v":3,"j":-1},{"c":13,"v":2,"j":-2},{"c":13,"v":2,"j":1},{"c":13,"v":1,"j":-2},{"c":13,"v":1,"j":1},{"c":13,"v":0,"j":-3},{"c":13,"v":0,"j":1},{"c":13,"v":0,"j":3},{"c":14,"v":2,"j":-1},{"c":14,"v":2,"j":1},{"c":14,"v":1,"j":0},{"c":14,"v":0,"j":-2},{"c":14,"v":0,"j":0},{"c":14,"v":0,"j":2},{"c":15,"v":1,"j":-1},{"c":15,"v":1,"j":1},{"c":15,"v":0,"j":-2},{"c":15,"v":0,"j":1},{"c":16,"v":6,"j":1},{"c":16,"v":5,"j":-1},{"c":16,"v":4,"j":2},{"c":16,"v":2,"j":0},{"c":16,"v":1,"j":1},{"c":16,"v":0,"j":-2},{"c":16,"v":0,"j":0},{"c":17,"v":100,"j":1},{"c":17,"v":70,"j":-1},{"c":17,"v":50,"j":2},{"c":17,"v":30,"j":-1},{"c":17,"v":25,"j":1},{"c":17,"v":20,"j":-1},{"c":17,"v":15,"j":-2},{"c":17,"v":12,"j":2},{"c":17,"v":10,"j":0},{"c":17,"v":8,"j":-2},{"c":17,"v":7,"j":2},{"c":17,"v":6,"j":-1},{"c":17,"v":5,"j":3},{"c":17,"v":4,"j":-2},{"c":17,"v":3,"j":1},{"c":17,"v":2,"j":-3},{"c":17,"v":2,"j":0},{"c":17,"v":2,"j":3},{"c":17,"v":1,"j":-2},{"c":17,"v":1,"j":1},{"c":17,"v":0,"j":-3},{"c":17,"v":0,"j":0},{"c":17,"v":0,"j":3},{"c":18,"v":15,"j":0},{"c":18,"v":12,"j":2},{"c":18,"v":10,"j":1},{"c":18,"v":6,"j":-2},{"c":18,"v":4,"j":0},{"c":18,"v":2,"j":1},{"c":18,"v":1,"j":-1},{"c":18,"v":1,"j":1},{"c":18,"v":0,"j":-1},{"c":18,"v":0,"j":2},{"c":19,"v":3,"j":-2},{"c":19,"v":2,"j":0},{"c":19,"v":1,"j":-1},{"c":19,"v":1,"j":2},{"c":19,"v":0,"j":-1},{"c":19,"v":0,"j":2},{"c":20,"v":2,"j":0},{"c":20,"v":0,"j":0},{"c":21,"v":7,"j":3},{"c":21,"v":6,"j":-1},{"c":21,"v":5,"j":1},{"c":21,"v":5,"j":-3},{"c":21,"v":3,"j":1},{"c":21,"v":3,"j":-3},{"c":21,"v":2,"j":0},{"c":21,"v":1,"j":0},{"c":21,"v":1,"j":2},{"c":21,"v":0,"j":-2},{"c":21,"v":0,"j":1},{"c":22,"v":240,"j":-1},{"c":22,"v":35,"j":-1},{"c":22,"v":30,"j":1},{"c":22,"v":28,"j":-2},{"c":22,"v":25,"j":1},{"c":22,"v":20,"j":-1},{"c":22,"v":15,"j":2},{"c":22,"v":12,"j":-2},{"c":22,"v":10,"j":1},{"c":22,"v":8,"j":-1},{"c":22,"v":6,"j":2},{"c":22,"v":5,"j":-2},{"c":22,"v":4,"j":1},{"c":22,"v":3,"j":-2},{"c":22,"v":3,"j":1},{"c":22,"v":2,"j":-2},{"c":22,"v":2,"j":1},{"c":22,"v":1,"j":-3},{"c":22,"v":1,"j":0},{"c":22,"v":1,"j":3},{"c":22,"v":0,"j":-3},{"c":22,"v":0,"j":0},{"c":22,"v":0,"j":3},{"c":23,"v":75,"j":1},{"c":23,"v":70,"j":0},{"c":23,"v":35,"j":2},{"c":23,"v":28,"j":-1},{"c":23,"v":22,"j":-1},{"c":23,"v":15,"j":2},{"c":23,"v":12,"j":-1},{"c":23,"v":10,"j":2},{"c":23,"v":8,"j":-2},{"c":23,"v":6,"j":2},{"c":23,"v":5,"j":-1},{"c":23,"v":4,"j":3},{"c":23,"v":3,"j":0},{"c":23,"v":2,"j":-2},{"c":23,"v":2,"j":1},{"c":23,"v":1,"j":-2},{"c":23,"v":1,"j":0},{"c":23,"v":1,"j":2},{"c":23,"v":0,"j":-3},{"c":23,"v":0,"j":-1},{"c":23,"v":0,"j":2},{"c":24,"v":5,"j":-3},{"c":24,"v":4,"j":2},{"c":24,"v":3,"j":1},{"c":24,"v":2,"j":-1},{"c":24,"v":1,"j":-2},{"c":24,"v":1,"j":1},{"c":24,"v":1,"j":2},{"c":24,"v":0,"j":-3},{"c":24,"v":0,"j":0},{"c":24,"v":0,"j":3},{"c":25,"v":55,"j":1},{"c":25,"v":24,"j":3},{"c":25,"v":17,"j":1},{"c":25,"v":10,"j":0},{"c":25,"v":4,"j":-2},{"c":25,"v":3,"j":2},{"c":25,"v":1,"j":-1},{"c":25,"v":1,"j":2},{"c":25,"v":0,"j":-1},{"c":25,"v":0,"j":1},{"c":26,"v":44,"j":3},{"c":26,"v":20,"j":0},{"c":26,"v":17,"j":-1},{"c":26,"v":10,"j":0},{"c":26,"v":7,"j":-2},{"c":26,"v":6,"j":-1},{"c":26,"v":5,"j":1},{"c":26,"v":4,"j":2},{"c":26,"v":3,"j":2},{"c":26,"v":2,"j":-1},{"c":26,"v":0,"j":-1},{"c":26,"v":0,"j":2},{"c":27,"v":140,"j":3},{"c":27,"v":50,"j":-1},{"c":27,"v":48,"j":2},{"c":27,"v":35,"j":1},{"c":27,"v":25,"j":1},{"c":27,"v":15,"j":-1},{"c":27,"v":12,"j":-2},{"c":27,"v":10,"j":1},{"c":27,"v":9,"j":3},{"c":27,"v":7,"j":-2},{"c":27,"v":5,"j":1},{"c":27,"v":4,"j":-1},{"c":27,"v":3,"j":2},{"c":27,"v":2,"j":-2},{"c":27,"v":2,"j":1},{"c":27,"v":1,"j":0},{"c":27,"v":1,"j":2},{"c":27,"v":0,"j":-2},{"c":27,"v":0,"j":1},{"c":27,"v":0,"j":3},{"c":28,"v":45,"j":-1},{"c":28,"v":12,"j":2},{"c":28,"v":4,"j":-2},{"c":28,"v":4,"j":2},{"c":28,"v":2,"j":-1},{"c":28,"v":2,"j":2},{"c":28,"v":1,"j":-2},{"c":28,"v":1,"j":1},{"c":28,"v":0,"j":-3},{"c":28,"v":0,"j":0},{"c":28,"v":0,"j":2},{"c":29,"v":60,"j":-1},{"c":29,"v":35,"j":2},{"c":29,"v":28,"j":1},{"c":29,"v":20,"j":-2},{"c":29,"v":15,"j":1},{"c":29,"v":12,"j":-3},{"c":29,"v":10,"j":0},{"c":29,"v":8,"j":3},{"c":29,"v":6,"j":-2},{"c":29,"v":5,"j":1},{"c":29,"v":4,"j":-1},{"c":29,"v":3,"j":2},{"c":29,"v":2,"j":-2},{"c":29,"v":2,"j":1},{"c":29,"v":1,"j":-2},{"c":29,"v":1,"j":1},{"c":29,"v":0,"j":-2},{"c":29,"v":0,"j":1},{"c":30,"v":42,"j":0},{"c":30,"v":3,"j":2},{"c":30,"v":2,"j":-2},{"c":30,"v":2,"j":1},{"c":30,"v":1,"j":-1},{"c":30,"v":1,"j":2},{"c":30,"v":0,"j":-3},{"c":30,"v":0,"j":0},{"c":30,"v":0,"j":3},{"c":31,"v":650,"j":3},{"c":31,"v":200,"j":-3},{"c":31,"v":170,"j":2},{"c":31,"v":120,"j":2},{"c":31,"v":100,"j":0},{"c":31,"v":80,"j":-1},{"c":31,"v":75,"j":2},{"c":31,"v":45,"j":-1},{"c":31,"v":35,"j":-2},{"c":31,"v":30,"j":1},{"c":31,"v":20,"j":-2},{"c":31,"v":18,"j":0},{"c":31,"v":12,"j":3},{"c":31,"v":8,"j":1},{"c":31,"v":6,"j":-1},{"c":31,"v":4,"j":-1},{"c":31,"v":3,"j":1},{"c":31,"v":2,"j":-1},{"c":31,"v":2,"j":1},{"c":31,"v":1,"j":-1},{"c":31,"v":1,"j":0},{"c":31,"v":0,"j":-2},{"c":31,"v":0,"j":0},{"c":32,"v":100,"j":2},{"c":32,"v":75,"j":1},{"c":32,"v":60,"j":-1},{"c":32,"v":35,"j":-2},{"c":32,"v":30,"j":0},{"c":32,"v":20,"j":-1},{"c":32,"v":17,"j":2},{"c":32,"v":12,"j":-1},{"c":32,"v":10,"j":1},{"c":32,"v":8,"j":-2},{"c":32,"v":6,"j":2},{"c":32,"v":5,"j":0},{"c":32,"v":4,"j":-2},{"c":32,"v":4,"j":3},{"c":32,"v":3,"j":1},{"c":32,"v":2,"j":-3},{"c":32,"v":2,"j":1},{"c":32,"v":1,"j":-2},{"c":32,"v":1,"j":1},{"c":32,"v":0,"j":-2},{"c":32,"v":0,"j":1},{"c":33,"v":190,"j":3},{"c":33,"v":150,"j":-1},{"c":33,"v":60,"j":2},{"c":33,"v":50,"j":-1},{"c":33,"v":45,"j":3},{"c":33,"v":38,"j":-2},{"c":33,"v":27,"j":3},{"c":33,"v":22,"j":-1},{"c":33,"v":17,"j":0},{"c":33,"v":10,"j":0},{"c":33,"v":8,"j":2},{"c":33,"v":6,"j":-1},{"c":33,"v":5,"j":1},{"c":33,"v":4,"j":1},{"c":33,"v":3,"j":-1},{"c":33,"v":2,"j":1},{"c":33,"v":1,"j":-1},{"c":33,"v":1,"j":2},{"c":33,"v":0,"j":-1},{"c":33,"v":0,"j":2},{"c":34,"v":8,"j":-1},{"c":34,"v":7,"j":2},{"c":34,"v":5,"j":-1},{"c":34,"v":4,"j":0},{"c":34,"v":3,"j":1},{"c":34,"v":2,"j":0},{"c":34,"v":1,"j":0},{"c":34,"v":0,"j":-2},{"c":34,"v":0,"j":1},{"c":35,"v":130,"j":1},{"c":35,"v":110,"j":-2},{"c":35,"v":100,"j":2},{"c":35,"v":95,"j":3},{"c":35,"v":45,"j":-1},{"c":35,"v":35,"j":1},{"c":35,"v":25,"j":1},{"c":35,"v":22,"j":-1},{"c":35,"v":18,"j":1},{"c":35,"v":15,"j":-1},{"c":35,"v":12,"j":2},{"c":35,"v":10,"j":0},{"c":35,"v":7,"j":-1},{"c":35,"v":6,"j":2},{"c":35,"v":4,"j":0},{"c":35,"v":3,"j":1},{"c":35,"v":2,"j":-1},{"c":35,"v":2,"j":1},{"c":35,"v":1,"j":-1},{"c":35,"v":1,"j":2},{"c":35,"v":0,"j":-1},{"c":35,"v":0,"j":2},{"c":36,"v":22,"j":3},{"c":36,"v":8,"j":2},{"c":36,"v":6,"j":0},{"c":36,"v":2,"j":-1},{"c":36,"v":2,"j":1},{"c":36,"v":1,"j":-2},{"c":36,"v":1,"j":1},{"c":36,"v":0,"j":-3},{"c":36,"v":0,"j":0},{"c":36,"v":0,"j":3},{"c":37,"v":670,"j":2},{"c":37,"v":600,"j":-1},{"c":37,"v":450,"j":1},{"c":37,"v":400,"j":3},{"c":37,"v":300,"j":-2},{"c":37,"v":250,"j":0},{"c":37,"v":200,"j":3},{"c":37,"v":170,"j":-3},{"c":37,"v":130,"j":1},{"c":37,"v":110,"j":-1},{"c":37,"v":90,"j":3},{"c":37,"v":70,"j":-2},{"c":37,"v":55,"j":1},{"c":37,"v":45,"j":-2},{"c":37,"v":35,"j":2},{"c":37,"v":27,"j":0},{"c":37,"v":20,"j":3},{"c":37,"v":15,"j":-1},{"c":37,"v":12,"j":-2},{"c":37,"v":4,"j":-1},{"c":37,"v":4,"j":1},{"c":37,"v":3,"j":-1},{"c":37,"v":1,"j":-1},{"c":37,"v":1,"j":1},{"c":37,"v":0,"j":-1},{"c":37,"v":0,"j":1},{"c":38,"v":280,"j":-1},{"c":38,"v":80,"j":3},{"c":38,"v":70,"j":2},{"c":38,"v":55,"j":1},{"c":38,"v":40,"j":-2},{"c":38,"v":35,"j":1},{"c":38,"v":28,"j":-3},{"c":38,"v":22,"j":-1},{"c":38,"v":18,"j":-3},{"c":38,"v":15,"j":0},{"c":38,"v":12,"j":2},{"c":38,"v":8,"j":0},{"c":38,"v":6,"j":-2},{"c":38,"v":5,"j":2},{"c":38,"v":4,"j":-2},{"c":38,"v":3,"j":2},{"c":38,"v":2,"j":-3},{"c":38,"v":2,"j":1},{"c":38,"v":1,"j":0},{"c":38,"v":0,"j":-1},{"c":39,"v":360,"j":-2},{"c":39,"v":24,"j":-1},{"c":39,"v":20,"j":0},{"c":39,"v":18,"j":2},{"c":39,"v":8,"j":-1},{"c":39,"v":7,"j":2},{"c":39,"v":5,"j":-2},{"c":39,"v":4,"j":0},{"c":39,"v":3,"j":3},{"c":39,"v":3,"j":0},{"c":39,"v":2,"j":-3},{"c":39,"v":2,"j":-1},{"c":39,"v":2,"j":1},{"c":39,"v":2,"j":3},{"c":39,"v":1,"j":-3},{"c":39,"v":1,"j":-1},{"c":39,"v":1,"j":1},{"c":39,"v":1,"j":3},{"c":39,"v":0,"j":-3},{"c":39,"v":0,"j":-1},{"c":39,"v":0,"j":1},{"c":39,"v":0,"j":3}]},
"vconcat":[
{"width":668,"height":322,"layer":[
{"data":{"name":"stripes"},"mark":{"type":"rect","width":15.5,"color":"#DCDDDD"},"encoding":{"x":{"field":"c","type":"ordinal","axis":null,"scale":{"type":"point","padding":0,"domain":[1,2,3,4,5,6,7,8,9,10,11,12,13,14,15,16,17,18,19,20,21,22,23,24,25,26,27,28,29,30,31,32,33,34,35,36,37,38,39],"range":[40,648]}}}},
{"data":{"name":"snv"},"mark":{"type":"circle","size":52,"stroke":"#000","strokeWidth":1.2,"opacity":1,"clip":false},"encoding":{"x":{"field":"c","type":"ordinal","axis":null},"xOffset":{"field":"j","type":"quantitative","scale":{"domain":[-8,8],"range":[-8,8]}},"y":{"field":"v","type":"quantitative","scale":{"type":"log","domain":[10,1000000],"range":[298,48]},"axis":{"title":"Number of SNVs","titleX":-102,"titleFontSize":20,"titleFontWeight":"normal","labelFontSize":16.3,"tickSize":13,"labelPadding":2,"values":[10,100,1000,10000,100000,1000000],"format":","}},"color":{"field":"c","type":"nominal","legend":null}}}
]},
{"width":668,"height":300,"layer":[
{"data":{"name":"stripes"},"mark":{"type":"rect","width":15.5,"color":"#DCDDDD"},"encoding":{"x":{"field":"c","type":"ordinal","axis":null,"scale":{"type":"point","padding":0,"domain":[1,2,3,4,5,6,7,8,9,10,11,12,13,14,15,16,17,18,19,20,21,22,23,24,25,26,27,28,29,30,31,32,33,34,35,36,37,38,39],"range":[40,648]}}}},
{"data":{"name":"indel"},"mark":{"type":"circle","size":52,"stroke":"#000","strokeWidth":1.2,"opacity":1,"clip":false},"encoding":{"x":{"field":"c","type":"ordinal","axis":null},"xOffset":{"field":"j","type":"quantitative","scale":{"domain":[-8,8],"range":[-8,8]}},"y":{"field":"v","type":"quantitative","scale":{"type":"log","domain":[1,100000],"range":[275,25]},"axis":{"title":"Number of Indels","titleX":-102,"titleFontSize":20,"titleFontWeight":"normal","labelFontSize":16.3,"tickSize":13,"labelPadding":2,"values":[1,10,100,1000,10000,100000],"format":","}},"color":{"field":"c","type":"nominal","legend":null}}}
]},
{"width":668,"height":200,"layer":[
{"data":{"name":"stripes"},"mark":{"type":"rect","width":15.5,"color":"#DCDDDD"},"encoding":{"x":{"field":"c","type":"ordinal","axis":null,"scale":{"type":"point","padding":0,"domain":[1,2,3,4,5,6,7,8,9,10,11,12,13,14,15,16,17,18,19,20,21,22,23,24,25,26,27,28,29,30,31,32,33,34,35,36,37,38,39],"range":[40,648]}}}},
{"data":{"name":"sv"},"mark":{"type":"circle","size":52,"stroke":"#000","strokeWidth":1.2,"opacity":1,"clip":false},"encoding":{"x":{"field":"c","type":"ordinal","axis":null},"xOffset":{"field":"j","type":"quantitative","scale":{"domain":[-8,8],"range":[-8,8]}},"y":{"field":"v","type":"quantitative","scale":{"type":"linear","domain":[0,1,2,3,4,5,6,7,8,9,10,15,20,30,50,70,100,150,200,300,500,700,1000],"range":[186,175,159.95,151.14,144.9,140.05,136.1,132.74,129.85,127.3,125,116.2,109.95,101.14,90.05,82.74,75,66.2,59.95,51.14,40.05,32.74,25]},"axis":{"title":"Number of SVs","titleX":-102,"titleFontSize":20,"titleFontWeight":"normal","labelFontSize":16.3,"tickSize":13,"labelPadding":2,"values":[0,1,10,100,1000],"labelExpr":"datum.value==1?'':format(datum.value,',')"}},"color":{"field":"c","type":"nominal","legend":null}}}
]},
{"width":668,"height":400,"layer":[
{"data":{"name":"stripes"},"mark":{"type":"rect","width":15.5,"color":"#DCDDDD"},"encoding":{"x":{"field":"c","type":"ordinal","scale":{"type":"point","padding":0,"domain":[1,2,3,4,5,6,7,8,9,10,11,12,13,14,15,16,17,18,19,20,21,22,23,24,25,26,27,28,29,30,31,32,33,34,35,36,37,38,39],"range":[40,648]},"axis":{"title":null,"offset":-185,"zindex":1,"labelAngle":-90,"labelAlign":"right","labelBaseline":"middle","labelFontSize":16,"tickSize":12,"labelPadding":3,"labelOverlap":false,"labelLimit":200,"labelExpr":"['Bone–Benign','CNS–PiloAstro','Bone–Osteoblast','Bone–Cart','Myeloid–MDS','Myeloid–MPN','Thy–AdenoCA','CNS–Medullo','Myeloid–AML','Kidney–ChRCC','Bone–Epith','Breast–DCIS','Panc–Endocrine','Lymph–CLL','CNS–Oligo','Breast–LobularCA','Prost–AdenoCA','Bone–Osteosarc','SoftTissue–Leiomyo','Cervix–AdenoCA','SoftTissue–Liposarc','Panc–AdenoCA','Breast–AdenoCA','Kidney–RCC','Biliary–AdenoCA','Cervix–SCC','Uterus–AdenoCA','CNS–GBM','Ovary–AdenoCA','Lymph–BNHL','Head–SCC','Liver–HCC','Stomach–AdenoCA','Bladder–TCC','ColoRect–AdenoCA','Lung–AdenoCA','Eso–AdenoCA','Lung–SCC','Skin–Melanoma'][datum.value-1]"}}}},
{"data":{"name":"retro"},"mark":{"type":"circle","size":52,"stroke":"#000","strokeWidth":1.2,"opacity":1,"clip":false},"encoding":{"x":{"field":"c","type":"ordinal"},"xOffset":{"field":"j","type":"quantitative","scale":{"domain":[-8,8],"range":[-8,8]}},"y":{"field":"v","type":"quantitative","scale":{"type":"linear","domain":[0,1,2,3,4,5,6,7,8,9,10,15,20,30,50,70,100,150,200,300,500,700,1000],"range":[186,175,159.95,151.14,144.9,140.05,136.1,132.74,129.85,127.3,125,116.2,109.95,101.14,90.05,82.74,75,66.2,59.95,51.14,40.05,32.74,25]},"axis":{"title":"Retrotranspositions","titleX":-102,"titleFontSize":20,"titleFontWeight":"normal","labelFontSize":16.3,"tickSize":13,"labelPadding":2,"values":[0,1,10,100,1000],"labelExpr":"datum.value==1?'':format(datum.value,',')"}},"color":{"field":"c","type":"nominal","legend":null}}}
]}
]}
